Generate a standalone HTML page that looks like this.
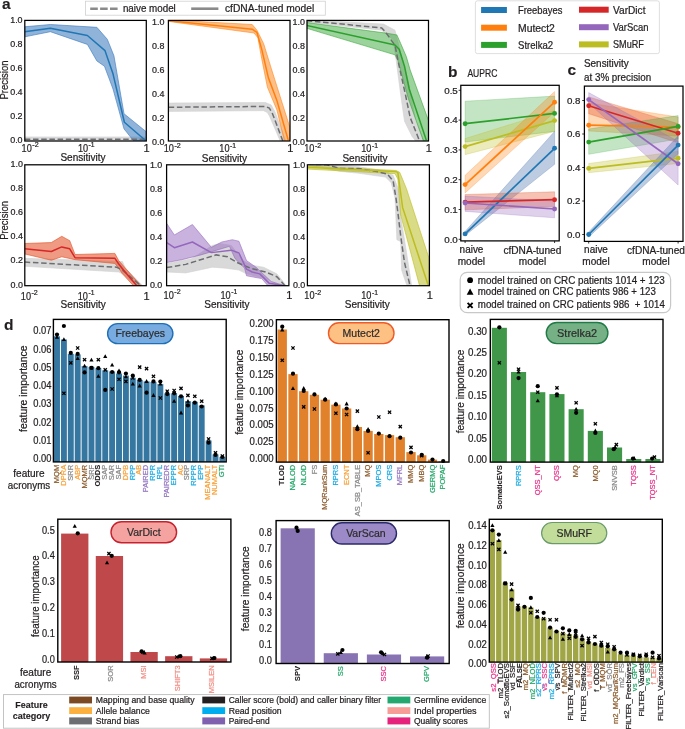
<!DOCTYPE html>
<html><head><meta charset="utf-8"><style>
html,body{margin:0;padding:0;background:#fff;}
svg{display:block;font-family:"Liberation Sans", sans-serif;will-change:transform;}
</style></head><body>
<svg width="685" height="729" viewBox="0 0 685 729" font-family='"Liberation Sans", sans-serif' fill="#231f20">
<rect width="685" height="729" fill="#fff"/>
<clipPath id="ca1"><rect x="24.8" y="20.4" width="121.50000000000001" height="120.6"/></clipPath>
<g clip-path="url(#ca1)">
<polygon points="24.80,136.90 146.30,136.90 146.30,140.20 24.80,140.20" fill="#d2d2d2" fill-opacity="0.85" stroke="#d2d2d2" stroke-width="0.6"/>
<polygon points="24.74,26.77 50.37,24.49 96.86,27.34 107.30,39.29 113.95,55.80 124.00,113.69 146.21,131.72 146.21,141.21 133.87,141.21 124.00,128.87 113.00,89.02 104.46,66.24 96.86,60.93 87.38,44.42 50.37,31.70 24.74,36.83" fill="#3f7cc0" fill-opacity="0.58" stroke="#3f7cc0" stroke-opacity="0.78" stroke-width="0.8"/>
<polyline points="24.80,139.30 146.30,139.30" fill="none" stroke="#6d6e71" stroke-width="1.5" stroke-dasharray="5.5,2.7"/>
<polyline points="24.74,31.70 50.37,28.29 87.38,35.50 105.03,50.68 113.00,73.83 124.38,122.23 145.26,140.26" fill="none" stroke="#1f77b4" stroke-width="1.5" stroke-linejoin="round"/>
</g>
<rect x="24.8" y="20.4" width="121.50000000000001" height="120.6" fill="none" stroke="#000" stroke-width="1.25"/>
<clipPath id="ca2"><rect x="168.4" y="20.4" width="121.6" height="120.6"/></clipPath>
<g clip-path="url(#ca2)">
<polygon points="168.69,103.06 265.49,102.49 271.18,104.96 274.98,111.79 285.98,141.21 280.29,141.21 269.66,116.54 267.38,112.55 263.59,110.65 168.69,111.41" fill="#d2d2d2" fill-opacity="0.85" stroke="#d2d2d2" stroke-width="0.6"/>
<polygon points="168.69,19.93 252.20,24.49 256.95,30.18 263.59,43.47 271.18,68.14 289.78,126.98 289.78,141.21 284.47,141.21 276.87,109.89 267.38,87.12 261.69,58.65 257.89,37.77 254.10,33.03 168.69,21.45" fill="#ff7f0e" fill-opacity="0.5" stroke="#ff7f0e" stroke-opacity="0.70" stroke-width="0.8"/>
<polyline points="168.69,107.24 265.49,106.48 269.28,108.00 272.13,112.74 282.95,141.21" fill="none" stroke="#6d6e71" stroke-width="1.5" stroke-dasharray="5.5,2.7"/>
<polyline points="168.69,20.69 252.20,29.23 256.95,32.46 261.69,49.16 268.33,77.63 276.87,100.41 288.26,140.26" fill="none" stroke="#ff7f0e" stroke-width="1.5" stroke-linejoin="round"/>
</g>
<rect x="168.4" y="20.4" width="121.6" height="120.6" fill="none" stroke="#000" stroke-width="1.25"/>
<clipPath id="ca3"><rect x="307.0" y="20.4" width="121.5" height="120.6"/></clipPath>
<g clip-path="url(#ca3)">
<polygon points="306.74,19.93 383.61,24.11 395.00,30.18 396.89,37.77 400.69,52.96 408.28,81.43 415.87,121.28 424.41,141.21 415.87,141.21 412.08,136.47 404.49,121.28 400.69,94.71 395.95,58.65 393.10,39.67 381.71,30.18 306.74,22.21" fill="#d2d2d2" fill-opacity="0.85" stroke="#d2d2d2" stroke-width="0.6"/>
<polygon points="306.74,22.59 385.51,33.03 396.89,34.93 400.69,43.47 406.38,56.75 410.18,70.04 428.78,121.28 428.78,141.21 423.47,141.21 408.28,98.51 402.59,77.63 397.84,60.55 395.00,54.86 306.74,28.29" fill="#2ca02c" fill-opacity="0.47" stroke="#2ca02c" stroke-opacity="0.67" stroke-width="0.8"/>
<polyline points="306.74,20.69 381.71,27.91 385.51,32.08 395.00,45.37 398.79,64.35 405.44,94.71 410.18,117.49 417.77,136.47 419.67,141.21" fill="none" stroke="#6d6e71" stroke-width="1.5" stroke-dasharray="5.5,2.7"/>
<polyline points="306.74,25.44 395.00,44.99 399.17,49.16 404.49,66.24 409.23,89.02 426.31,140.26" fill="none" stroke="#2ca02c" stroke-width="1.5" stroke-linejoin="round"/>
</g>
<rect x="307.0" y="20.4" width="121.5" height="120.6" fill="none" stroke="#000" stroke-width="1.25"/>
<clipPath id="ca4"><rect x="24.8" y="164.8" width="121.50000000000001" height="120.89999999999998"/></clipPath>
<g clip-path="url(#ca4)">
<polygon points="24.74,258.31 122.49,261.54 125.33,268.18 143.36,286.21 137.67,286.21 122.49,273.87 118.69,271.98 24.74,266.28" fill="#d2d2d2" fill-opacity="0.85" stroke="#d2d2d2" stroke-width="0.6"/>
<polygon points="24.74,243.51 51.32,242.56 61.75,236.30 69.72,240.66 75.04,254.52 114.89,253.38 118.69,260.59 126.28,269.13 141.47,286.21 133.87,286.21 122.49,273.87 118.69,268.18 114.89,263.44 75.04,259.64 61.75,256.79 51.32,260.21 24.74,253.95" fill="#e4572e" fill-opacity="0.6" stroke="#e4572e" stroke-opacity="0.80" stroke-width="0.8"/>
<polyline points="24.74,262.11 116.79,267.23 122.49,270.08 141.47,286.21" fill="none" stroke="#6d6e71" stroke-width="1.5" stroke-dasharray="5.5,2.7"/>
<polyline points="24.74,248.82 51.32,251.48 61.75,246.92 69.72,248.82 75.04,257.74 114.89,258.31 118.69,264.00 123.44,270.08 136.72,285.64" fill="none" stroke="#d62728" stroke-width="1.5" stroke-linejoin="round"/>
</g>
<rect x="24.8" y="164.8" width="121.50000000000001" height="120.89999999999998" fill="none" stroke="#000" stroke-width="1.25"/>
<clipPath id="ca5"><rect x="166.6" y="164.8" width="122.29999999999998" height="120.89999999999998"/></clipPath>
<g clip-path="url(#ca5)">
<polygon points="166.80,263.44 191.47,258.69 212.35,245.41 219.94,243.51 231.32,245.41 242.71,260.59 252.20,265.33 263.59,267.23 276.87,273.87 284.47,283.36 286.36,286.21 280.67,286.21 265.49,278.62 246.51,273.87 238.92,270.08 225.63,268.18 212.35,267.23 185.77,272.92 166.80,271.98" fill="#d2d2d2" fill-opacity="0.85" stroke="#d2d2d2" stroke-width="0.6"/>
<polygon points="166.80,223.58 174.39,234.97 192.42,224.53 211.40,247.30 221.83,241.99 232.27,239.71 238.92,241.23 246.51,260.59 256.00,267.23 271.18,281.47 284.47,285.64 268.33,286.21 261.69,278.62 246.51,275.77 244.61,268.18 235.12,258.69 229.43,246.35 219.94,249.20 200.96,254.89 181.98,259.64 166.80,262.49" fill="#9467bd" fill-opacity="0.5" stroke="#9467bd" stroke-opacity="0.70" stroke-width="0.8"/>
<polyline points="166.80,267.61 185.77,264.38 216.14,254.89 227.53,256.79 237.02,262.49 250.30,268.18 265.49,271.98 276.87,276.72 285.41,286.21" fill="none" stroke="#6d6e71" stroke-width="1.5" stroke-dasharray="5.5,2.7"/>
<polyline points="166.80,242.56 174.39,247.68 192.42,241.99 211.40,252.62 231.32,250.15 238.92,253.00 246.51,269.13 252.20,271.98 259.79,273.87 269.28,283.36 284.47,285.64" fill="none" stroke="#9467bd" stroke-width="1.5" stroke-linejoin="round"/>
</g>
<rect x="166.6" y="164.8" width="122.29999999999998" height="120.89999999999998" fill="none" stroke="#000" stroke-width="1.25"/>
<clipPath id="ca6"><rect x="307.4" y="164.8" width="122.0" height="120.89999999999998"/></clipPath>
<g clip-path="url(#ca6)">
<polygon points="307.69,163.42 326.67,164.18 358.94,166.83 385.51,171.01 393.10,175.18 398.79,190.37 400.69,216.94 404.49,239.71 409.23,270.08 411.70,286.21 407.33,286.21 405.44,281.47 401.64,270.08 400.69,241.61 396.89,239.71 395.00,197.96 391.20,182.77 385.51,177.08 358.94,173.29 339.96,171.39 307.69,164.93" fill="#d2d2d2" fill-opacity="0.85" stroke="#d2d2d2" stroke-width="0.6"/>
<polygon points="307.69,166.07 395.95,170.44 399.74,172.34 406.38,188.47 429.16,258.69 429.16,286.21 419.67,286.21 400.69,215.04 397.84,178.98 395.00,173.66 307.69,169.11" fill="#bcbd22" fill-opacity="0.55" stroke="#bcbd22" stroke-opacity="0.75" stroke-width="0.8"/>
<polyline points="307.69,164.18 326.67,164.74 339.96,168.54 358.94,168.54 377.92,171.77 387.41,174.23 393.10,180.88 395.95,197.96 397.84,212.19 400.69,235.92 404.49,262.49 410.18,286.21" fill="none" stroke="#6d6e71" stroke-width="1.5" stroke-dasharray="5.5,2.7"/>
<polyline points="307.69,167.21 395.00,171.39 397.84,172.34 402.59,207.45 428.21,285.26" fill="none" stroke="#bcbd22" stroke-width="1.5" stroke-linejoin="round"/>
</g>
<rect x="307.4" y="164.8" width="122.0" height="120.89999999999998" fill="none" stroke="#000" stroke-width="1.25"/>
<text x="22.60" y="142.60" font-size="9.0" text-anchor="end" stroke="#231f20" stroke-width="0.22" textLength="12.40" lengthAdjust="spacingAndGlyphs">0.0</text>
<text x="22.60" y="118.72" font-size="9.0" text-anchor="end" stroke="#231f20" stroke-width="0.22" textLength="12.40" lengthAdjust="spacingAndGlyphs">0.2</text>
<text x="22.60" y="94.84" font-size="9.0" text-anchor="end" stroke="#231f20" stroke-width="0.22" textLength="12.40" lengthAdjust="spacingAndGlyphs">0.4</text>
<text x="22.60" y="70.96" font-size="9.0" text-anchor="end" stroke="#231f20" stroke-width="0.22" textLength="12.40" lengthAdjust="spacingAndGlyphs">0.6</text>
<text x="22.60" y="47.08" font-size="9.0" text-anchor="end" stroke="#231f20" stroke-width="0.22" textLength="12.40" lengthAdjust="spacingAndGlyphs">0.8</text>
<text x="22.60" y="23.20" font-size="9.0" text-anchor="end" stroke="#231f20" stroke-width="0.22" textLength="12.40" lengthAdjust="spacingAndGlyphs">1.0</text>
<text x="164.40" y="145.20" font-size="9.0" text-anchor="end" stroke="#231f20" stroke-width="0.22" textLength="12.40" lengthAdjust="spacingAndGlyphs">0.0</text>
<text x="164.40" y="121.18" font-size="9.0" text-anchor="end" stroke="#231f20" stroke-width="0.22" textLength="12.40" lengthAdjust="spacingAndGlyphs">0.2</text>
<text x="164.40" y="97.16" font-size="9.0" text-anchor="end" stroke="#231f20" stroke-width="0.22" textLength="12.40" lengthAdjust="spacingAndGlyphs">0.4</text>
<text x="164.40" y="73.14" font-size="9.0" text-anchor="end" stroke="#231f20" stroke-width="0.22" textLength="12.40" lengthAdjust="spacingAndGlyphs">0.6</text>
<text x="164.40" y="49.12" font-size="9.0" text-anchor="end" stroke="#231f20" stroke-width="0.22" textLength="12.40" lengthAdjust="spacingAndGlyphs">0.8</text>
<text x="164.40" y="25.10" font-size="9.0" text-anchor="end" stroke="#231f20" stroke-width="0.22" textLength="12.40" lengthAdjust="spacingAndGlyphs">1.0</text>
<text x="305.00" y="145.10" font-size="9.0" text-anchor="end" stroke="#231f20" stroke-width="0.22" textLength="12.40" lengthAdjust="spacingAndGlyphs">0.0</text>
<text x="305.00" y="121.12" font-size="9.0" text-anchor="end" stroke="#231f20" stroke-width="0.22" textLength="12.40" lengthAdjust="spacingAndGlyphs">0.2</text>
<text x="305.00" y="97.14" font-size="9.0" text-anchor="end" stroke="#231f20" stroke-width="0.22" textLength="12.40" lengthAdjust="spacingAndGlyphs">0.4</text>
<text x="305.00" y="73.16" font-size="9.0" text-anchor="end" stroke="#231f20" stroke-width="0.22" textLength="12.40" lengthAdjust="spacingAndGlyphs">0.6</text>
<text x="305.00" y="49.18" font-size="9.0" text-anchor="end" stroke="#231f20" stroke-width="0.22" textLength="12.40" lengthAdjust="spacingAndGlyphs">0.8</text>
<text x="305.00" y="25.20" font-size="9.0" text-anchor="end" stroke="#231f20" stroke-width="0.22" textLength="12.40" lengthAdjust="spacingAndGlyphs">1.0</text>
<text x="22.90" y="287.50" font-size="9.0" text-anchor="end" stroke="#231f20" stroke-width="0.22" textLength="12.40" lengthAdjust="spacingAndGlyphs">0.0</text>
<text x="22.90" y="263.42" font-size="9.0" text-anchor="end" stroke="#231f20" stroke-width="0.22" textLength="12.40" lengthAdjust="spacingAndGlyphs">0.2</text>
<text x="22.90" y="239.34" font-size="9.0" text-anchor="end" stroke="#231f20" stroke-width="0.22" textLength="12.40" lengthAdjust="spacingAndGlyphs">0.4</text>
<text x="22.90" y="215.26" font-size="9.0" text-anchor="end" stroke="#231f20" stroke-width="0.22" textLength="12.40" lengthAdjust="spacingAndGlyphs">0.6</text>
<text x="22.90" y="191.18" font-size="9.0" text-anchor="end" stroke="#231f20" stroke-width="0.22" textLength="12.40" lengthAdjust="spacingAndGlyphs">0.8</text>
<text x="22.90" y="167.10" font-size="9.0" text-anchor="end" stroke="#231f20" stroke-width="0.22" textLength="12.40" lengthAdjust="spacingAndGlyphs">1.0</text>
<text x="162.30" y="288.00" font-size="9.0" text-anchor="end" stroke="#231f20" stroke-width="0.22" textLength="12.40" lengthAdjust="spacingAndGlyphs">0.0</text>
<text x="162.30" y="264.08" font-size="9.0" text-anchor="end" stroke="#231f20" stroke-width="0.22" textLength="12.40" lengthAdjust="spacingAndGlyphs">0.2</text>
<text x="162.30" y="240.16" font-size="9.0" text-anchor="end" stroke="#231f20" stroke-width="0.22" textLength="12.40" lengthAdjust="spacingAndGlyphs">0.4</text>
<text x="162.30" y="216.24" font-size="9.0" text-anchor="end" stroke="#231f20" stroke-width="0.22" textLength="12.40" lengthAdjust="spacingAndGlyphs">0.6</text>
<text x="162.30" y="192.32" font-size="9.0" text-anchor="end" stroke="#231f20" stroke-width="0.22" textLength="12.40" lengthAdjust="spacingAndGlyphs">0.8</text>
<text x="162.30" y="168.40" font-size="9.0" text-anchor="end" stroke="#231f20" stroke-width="0.22" textLength="12.40" lengthAdjust="spacingAndGlyphs">1.0</text>
<text x="305.30" y="288.20" font-size="9.0" text-anchor="end" stroke="#231f20" stroke-width="0.22" textLength="12.40" lengthAdjust="spacingAndGlyphs">0.0</text>
<text x="305.30" y="264.24" font-size="9.0" text-anchor="end" stroke="#231f20" stroke-width="0.22" textLength="12.40" lengthAdjust="spacingAndGlyphs">0.2</text>
<text x="305.30" y="240.28" font-size="9.0" text-anchor="end" stroke="#231f20" stroke-width="0.22" textLength="12.40" lengthAdjust="spacingAndGlyphs">0.4</text>
<text x="305.30" y="216.32" font-size="9.0" text-anchor="end" stroke="#231f20" stroke-width="0.22" textLength="12.40" lengthAdjust="spacingAndGlyphs">0.6</text>
<text x="305.30" y="192.36" font-size="9.0" text-anchor="end" stroke="#231f20" stroke-width="0.22" textLength="12.40" lengthAdjust="spacingAndGlyphs">0.8</text>
<text x="305.30" y="168.40" font-size="9.0" text-anchor="end" stroke="#231f20" stroke-width="0.22" textLength="12.40" lengthAdjust="spacingAndGlyphs">1.0</text>
<text x="21.60" y="151.80" font-size="11.0" stroke="#231f20" stroke-width="0.22" textLength="10.20" lengthAdjust="spacingAndGlyphs">10</text>
<text x="32.30" y="147.40" font-size="7.1" stroke="#231f20" stroke-width="0.22" textLength="6.30" lengthAdjust="spacingAndGlyphs">-2</text>
<text x="77.90" y="151.80" font-size="11.0" stroke="#231f20" stroke-width="0.22" textLength="10.20" lengthAdjust="spacingAndGlyphs">10</text>
<text x="88.60" y="147.40" font-size="7.1" stroke="#231f20" stroke-width="0.22" textLength="6.00" lengthAdjust="spacingAndGlyphs">-1</text>
<text x="146.60" y="151.80" font-size="11.0" text-anchor="middle" stroke="#231f20" stroke-width="0.22">1</text>
<text x="83.00" y="161.10" font-size="10.0" text-anchor="middle" stroke="#231f20" stroke-width="0.22" textLength="45.20" lengthAdjust="spacingAndGlyphs">Sensitivity</text>
<text x="163.70" y="152.30" font-size="11.0" stroke="#231f20" stroke-width="0.22" textLength="10.20" lengthAdjust="spacingAndGlyphs">10</text>
<text x="174.40" y="147.90" font-size="7.1" stroke="#231f20" stroke-width="0.22" textLength="6.30" lengthAdjust="spacingAndGlyphs">-2</text>
<text x="219.30" y="152.30" font-size="11.0" stroke="#231f20" stroke-width="0.22" textLength="10.20" lengthAdjust="spacingAndGlyphs">10</text>
<text x="230.00" y="147.90" font-size="7.1" stroke="#231f20" stroke-width="0.22" textLength="6.00" lengthAdjust="spacingAndGlyphs">-1</text>
<text x="290.30" y="152.30" font-size="11.0" text-anchor="middle" stroke="#231f20" stroke-width="0.22">1</text>
<text x="224.40" y="162.00" font-size="10.0" text-anchor="middle" stroke="#231f20" stroke-width="0.22" textLength="45.20" lengthAdjust="spacingAndGlyphs">Sensitivity</text>
<text x="304.20" y="152.30" font-size="11.0" stroke="#231f20" stroke-width="0.22" textLength="10.20" lengthAdjust="spacingAndGlyphs">10</text>
<text x="314.90" y="147.90" font-size="7.1" stroke="#231f20" stroke-width="0.22" textLength="6.30" lengthAdjust="spacingAndGlyphs">-2</text>
<text x="361.20" y="152.30" font-size="11.0" stroke="#231f20" stroke-width="0.22" textLength="10.20" lengthAdjust="spacingAndGlyphs">10</text>
<text x="371.90" y="147.90" font-size="7.1" stroke="#231f20" stroke-width="0.22" textLength="6.00" lengthAdjust="spacingAndGlyphs">-1</text>
<text x="428.80" y="152.30" font-size="11.0" text-anchor="middle" stroke="#231f20" stroke-width="0.22">1</text>
<text x="365.00" y="162.00" font-size="10.0" text-anchor="middle" stroke="#231f20" stroke-width="0.22" textLength="45.20" lengthAdjust="spacingAndGlyphs">Sensitivity</text>
<text x="20.80" y="299.60" font-size="11.0" stroke="#231f20" stroke-width="0.22" textLength="10.20" lengthAdjust="spacingAndGlyphs">10</text>
<text x="31.50" y="295.20" font-size="7.1" stroke="#231f20" stroke-width="0.22" textLength="6.30" lengthAdjust="spacingAndGlyphs">-2</text>
<text x="77.70" y="299.60" font-size="11.0" stroke="#231f20" stroke-width="0.22" textLength="10.20" lengthAdjust="spacingAndGlyphs">10</text>
<text x="88.40" y="295.20" font-size="7.1" stroke="#231f20" stroke-width="0.22" textLength="6.00" lengthAdjust="spacingAndGlyphs">-1</text>
<text x="146.60" y="299.60" font-size="11.0" text-anchor="middle" stroke="#231f20" stroke-width="0.22">1</text>
<text x="83.20" y="307.60" font-size="10.0" text-anchor="middle" stroke="#231f20" stroke-width="0.22" textLength="45.20" lengthAdjust="spacingAndGlyphs">Sensitivity</text>
<text x="163.60" y="298.70" font-size="11.0" stroke="#231f20" stroke-width="0.22" textLength="10.20" lengthAdjust="spacingAndGlyphs">10</text>
<text x="174.30" y="294.30" font-size="7.1" stroke="#231f20" stroke-width="0.22" textLength="6.30" lengthAdjust="spacingAndGlyphs">-2</text>
<text x="220.50" y="298.70" font-size="11.0" stroke="#231f20" stroke-width="0.22" textLength="10.20" lengthAdjust="spacingAndGlyphs">10</text>
<text x="231.20" y="294.30" font-size="7.1" stroke="#231f20" stroke-width="0.22" textLength="6.00" lengthAdjust="spacingAndGlyphs">-1</text>
<text x="289.20" y="298.70" font-size="11.0" text-anchor="middle" stroke="#231f20" stroke-width="0.22">1</text>
<text x="226.90" y="307.60" font-size="10.0" text-anchor="middle" stroke="#231f20" stroke-width="0.22" textLength="45.20" lengthAdjust="spacingAndGlyphs">Sensitivity</text>
<text x="304.30" y="299.20" font-size="11.0" stroke="#231f20" stroke-width="0.22" textLength="10.20" lengthAdjust="spacingAndGlyphs">10</text>
<text x="315.00" y="294.80" font-size="7.1" stroke="#231f20" stroke-width="0.22" textLength="6.30" lengthAdjust="spacingAndGlyphs">-2</text>
<text x="361.20" y="299.20" font-size="11.0" stroke="#231f20" stroke-width="0.22" textLength="10.20" lengthAdjust="spacingAndGlyphs">10</text>
<text x="371.90" y="294.80" font-size="7.1" stroke="#231f20" stroke-width="0.22" textLength="6.00" lengthAdjust="spacingAndGlyphs">-1</text>
<text x="429.70" y="299.20" font-size="11.0" text-anchor="middle" stroke="#231f20" stroke-width="0.22">1</text>
<text x="367.30" y="307.60" font-size="10.0" text-anchor="middle" stroke="#231f20" stroke-width="0.22" textLength="45.20" lengthAdjust="spacingAndGlyphs">Sensitivity</text>
<text x="7.60" y="80.00" font-size="10.3" text-anchor="middle" stroke="#231f20" stroke-width="0.22" textLength="38.90" lengthAdjust="spacingAndGlyphs" transform="rotate(-90 7.60 80.00)">Precision</text>
<text x="7.60" y="220.40" font-size="10.3" text-anchor="middle" stroke="#231f20" stroke-width="0.22" textLength="38.90" lengthAdjust="spacingAndGlyphs" transform="rotate(-90 7.60 220.40)">Precision</text>
<text x="1.90" y="9.10" font-size="15.5" stroke="#231f20" stroke-width="0.12" font-weight="bold">a</text>
<rect x="85.5" y="1.2" width="239.8" height="14.0" fill="#fff" stroke="#d0d0d0" stroke-width="0.8"/>
<line x1="90.2" y1="8.7" x2="117.6" y2="8.7" stroke="#8a8a8a" stroke-width="2.6" stroke-dasharray="7.6,2.3"/>
<text x="122.90" y="11.90" font-size="10.0" stroke="#231f20" stroke-width="0.22" textLength="52.90" lengthAdjust="spacingAndGlyphs">naive model</text>
<line x1="191.2" y1="8.7" x2="218.4" y2="8.7" stroke="#8a8a8a" stroke-width="2.6"/>
<text x="225.00" y="11.90" font-size="10.0" stroke="#231f20" stroke-width="0.22" textLength="89.20" lengthAdjust="spacingAndGlyphs">cfDNA-tuned model</text>
<rect x="475.4" y="0.8" width="184.0" height="52.8" rx="2" fill="#fff" stroke="#d6d6d6" stroke-width="0.8"/>
<rect x="481.1" y="7.0" width="25.8" height="6.0" fill="#1f77b4"/>
<text x="518.00" y="13.90" font-size="10.4" stroke="#231f20" stroke-width="0.22" textLength="44.40" lengthAdjust="spacingAndGlyphs">Freebayes</text>
<rect x="481.1" y="24.7" width="25.8" height="6.0" fill="#ff7f0e"/>
<text x="518.00" y="31.60" font-size="10.4" stroke="#231f20" stroke-width="0.22" textLength="36.90" lengthAdjust="spacingAndGlyphs">Mutect2</text>
<rect x="481.1" y="41.9" width="25.8" height="6.0" fill="#2ca02c"/>
<text x="518.00" y="48.80" font-size="10.4" stroke="#231f20" stroke-width="0.22" textLength="35.20" lengthAdjust="spacingAndGlyphs">Strelka2</text>
<rect x="579.0" y="6.699999999999999" width="29.7" height="6.0" fill="#d62728"/>
<text x="613.00" y="13.60" font-size="10.4" stroke="#231f20" stroke-width="0.22" textLength="32.50" lengthAdjust="spacingAndGlyphs">VarDict</text>
<rect x="579.0" y="24.2" width="29.7" height="6.0" fill="#9467bd"/>
<text x="613.00" y="31.10" font-size="10.4" stroke="#231f20" stroke-width="0.22" textLength="35.50" lengthAdjust="spacingAndGlyphs">VarScan</text>
<rect x="579.0" y="41.4" width="29.7" height="6.0" fill="#bcbd22"/>
<text x="613.00" y="48.30" font-size="10.4" stroke="#231f20" stroke-width="0.22" textLength="30.80" lengthAdjust="spacingAndGlyphs">SMuRF</text>
<clipPath id="cb"><rect x="460.8" y="85.3" width="98.40000000000003" height="155.60000000000002"/></clipPath>
<g clip-path="url(#cb)">
<polygon points="465.10,101.20 554.60,96.10 554.60,131.40 465.10,142.00" fill="#2ca02c" fill-opacity="0.28" stroke="#2ca02c" stroke-opacity="0.28" stroke-width="0.8"/>
<polygon points="465.10,138.60 554.60,110.50 554.60,131.40 465.10,154.70" fill="#bcbd22" fill-opacity="0.3" stroke="#bcbd22" stroke-opacity="0.3" stroke-width="0.8"/>
<polygon points="465.10,175.30 554.60,91.60 554.60,112.00 465.10,192.90" fill="#ff7f0e" fill-opacity="0.3" stroke="#ff7f0e" stroke-opacity="0.3" stroke-width="0.8"/>
<polygon points="465.10,231.50 554.60,131.40 554.60,164.30 465.10,235.50" fill="#4c72b0" fill-opacity="0.36" stroke="#4c72b0" stroke-opacity="0.36" stroke-width="0.8"/>
<polygon points="465.10,194.50 554.60,191.80 554.60,206.60 465.10,209.80" fill="#e4572e" fill-opacity="0.36" stroke="#e4572e" stroke-opacity="0.36" stroke-width="0.8"/>
<polygon points="465.10,196.10 554.60,201.00 554.60,217.80 465.10,211.40" fill="#9467bd" fill-opacity="0.3" stroke="#9467bd" stroke-opacity="0.3" stroke-width="0.8"/>
<line x1="465.10" y1="123.70" x2="554.60" y2="113.40" stroke="#2ca02c" stroke-width="1.7"/>
<circle cx="465.10" cy="123.70" r="2.45" fill="#2ca02c"/>
<circle cx="554.60" cy="113.40" r="2.45" fill="#2ca02c"/>
<line x1="465.10" y1="146.60" x2="554.60" y2="120.60" stroke="#bcbd22" stroke-width="1.7"/>
<circle cx="465.10" cy="146.60" r="2.45" fill="#bcbd22"/>
<circle cx="554.60" cy="120.60" r="2.45" fill="#bcbd22"/>
<line x1="465.10" y1="184.60" x2="554.60" y2="102.20" stroke="#ff7f0e" stroke-width="1.7"/>
<circle cx="465.10" cy="184.60" r="2.45" fill="#ff7f0e"/>
<circle cx="554.60" cy="102.20" r="2.45" fill="#ff7f0e"/>
<line x1="465.10" y1="233.90" x2="554.60" y2="148.30" stroke="#1f77b4" stroke-width="1.7"/>
<circle cx="465.10" cy="233.90" r="2.45" fill="#1f77b4"/>
<circle cx="554.60" cy="148.30" r="2.45" fill="#1f77b4"/>
<line x1="465.10" y1="202.10" x2="554.60" y2="199.70" stroke="#d62728" stroke-width="1.7"/>
<circle cx="465.10" cy="202.10" r="2.45" fill="#d62728"/>
<circle cx="554.60" cy="199.70" r="2.45" fill="#d62728"/>
<line x1="465.10" y1="203.00" x2="554.60" y2="209.00" stroke="#9467bd" stroke-width="1.7"/>
<circle cx="465.10" cy="203.00" r="2.45" fill="#9467bd"/>
<circle cx="554.60" cy="209.00" r="2.45" fill="#9467bd"/>
</g>
<rect x="460.8" y="85.3" width="98.40000000000003" height="155.60000000000002" fill="none" stroke="#000" stroke-width="1.25"/>
<text x="457.80" y="242.50" font-size="9.0" text-anchor="end" stroke="#231f20" stroke-width="0.22" textLength="13.60" lengthAdjust="spacingAndGlyphs">0.0</text>
<line x1="458.6" y1="239.30" x2="460.8" y2="239.30" stroke="#000" stroke-width="0.8"/>
<text x="457.80" y="212.70" font-size="9.0" text-anchor="end" stroke="#231f20" stroke-width="0.22" textLength="13.60" lengthAdjust="spacingAndGlyphs">0.1</text>
<line x1="458.6" y1="209.50" x2="460.8" y2="209.50" stroke="#000" stroke-width="0.8"/>
<text x="457.80" y="182.90" font-size="9.0" text-anchor="end" stroke="#231f20" stroke-width="0.22" textLength="13.60" lengthAdjust="spacingAndGlyphs">0.2</text>
<line x1="458.6" y1="179.70" x2="460.8" y2="179.70" stroke="#000" stroke-width="0.8"/>
<text x="457.80" y="153.10" font-size="9.0" text-anchor="end" stroke="#231f20" stroke-width="0.22" textLength="13.60" lengthAdjust="spacingAndGlyphs">0.3</text>
<line x1="458.6" y1="149.90" x2="460.8" y2="149.90" stroke="#000" stroke-width="0.8"/>
<text x="457.80" y="123.30" font-size="9.0" text-anchor="end" stroke="#231f20" stroke-width="0.22" textLength="13.60" lengthAdjust="spacingAndGlyphs">0.4</text>
<line x1="458.6" y1="120.10" x2="460.8" y2="120.10" stroke="#000" stroke-width="0.8"/>
<text x="457.80" y="93.50" font-size="9.0" text-anchor="end" stroke="#231f20" stroke-width="0.22" textLength="13.60" lengthAdjust="spacingAndGlyphs">0.5</text>
<line x1="458.6" y1="90.30" x2="460.8" y2="90.30" stroke="#000" stroke-width="0.8"/>
<line x1="465.1" y1="240.9" x2="465.1" y2="243.0" stroke="#000" stroke-width="0.8"/>
<line x1="554.6" y1="240.9" x2="554.6" y2="243.0" stroke="#000" stroke-width="0.8"/>
<text x="448.00" y="76.60" font-size="15.5" stroke="#231f20" stroke-width="0.12" font-weight="bold">b</text>
<text x="467.40" y="76.60" font-size="11.0" stroke="#231f20" stroke-width="0.22" textLength="30.00" lengthAdjust="spacingAndGlyphs">AUPRC</text>
<text x="471.50" y="253.20" font-size="10.0" text-anchor="middle" stroke="#231f20" stroke-width="0.22" textLength="23.80" lengthAdjust="spacingAndGlyphs">naive</text>
<text x="471.40" y="265.10" font-size="10.0" text-anchor="middle" stroke="#231f20" stroke-width="0.22" textLength="27.40" lengthAdjust="spacingAndGlyphs">model</text>
<text x="532.40" y="253.80" font-size="10.0" text-anchor="middle" stroke="#231f20" stroke-width="0.22" textLength="57.90" lengthAdjust="spacingAndGlyphs">cfDNA-tuned</text>
<text x="532.50" y="265.10" font-size="10.0" text-anchor="middle" stroke="#231f20" stroke-width="0.22" textLength="27.40" lengthAdjust="spacingAndGlyphs">model</text>
<clipPath id="cc"><rect x="584.4" y="86.1" width="98.60000000000002" height="155.3"/></clipPath>
<g clip-path="url(#cc)">
<polygon points="588.70,103.00 678.10,117.00 678.10,136.00 588.70,131.00" fill="#ff7f0e" fill-opacity="0.3" stroke="#ff7f0e" stroke-opacity="0.3" stroke-width="0.8"/>
<polygon points="588.70,96.90 678.10,123.70 678.10,142.80 588.70,113.70" fill="#e4572e" fill-opacity="0.36" stroke="#e4572e" stroke-opacity="0.36" stroke-width="0.8"/>
<polygon points="588.70,129.00 678.10,115.60 678.10,139.00 588.70,154.30" fill="#2ca02c" fill-opacity="0.28" stroke="#2ca02c" stroke-opacity="0.28" stroke-width="0.8"/>
<polygon points="588.70,163.50 678.10,151.30 678.10,163.50 588.70,172.70" fill="#bcbd22" fill-opacity="0.3" stroke="#bcbd22" stroke-opacity="0.3" stroke-width="0.8"/>
<polygon points="588.70,92.60 678.10,141.30 678.10,185.00 588.70,103.00" fill="#9467bd" fill-opacity="0.3" stroke="#9467bd" stroke-opacity="0.3" stroke-width="0.8"/>
<polygon points="588.70,232.00 678.10,136.00 678.10,153.80 588.70,237.00" fill="#4c72b0" fill-opacity="0.36" stroke="#4c72b0" stroke-opacity="0.36" stroke-width="0.8"/>
<line x1="588.70" y1="125.20" x2="678.10" y2="127.00" stroke="#ff7f0e" stroke-width="1.7"/>
<circle cx="588.70" cy="125.20" r="2.45" fill="#ff7f0e"/>
<circle cx="678.10" cy="127.00" r="2.45" fill="#ff7f0e"/>
<line x1="588.70" y1="105.80" x2="678.10" y2="133.30" stroke="#d62728" stroke-width="1.7"/>
<circle cx="588.70" cy="105.80" r="2.45" fill="#d62728"/>
<circle cx="678.10" cy="133.30" r="2.45" fill="#d62728"/>
<line x1="588.70" y1="142.10" x2="678.10" y2="126.40" stroke="#2ca02c" stroke-width="1.7"/>
<circle cx="588.70" cy="142.10" r="2.45" fill="#2ca02c"/>
<circle cx="678.10" cy="126.40" r="2.45" fill="#2ca02c"/>
<line x1="588.70" y1="168.40" x2="678.10" y2="158.20" stroke="#bcbd22" stroke-width="1.7"/>
<circle cx="588.70" cy="168.40" r="2.45" fill="#bcbd22"/>
<circle cx="678.10" cy="158.20" r="2.45" fill="#bcbd22"/>
<line x1="588.70" y1="99.60" x2="678.10" y2="163.80" stroke="#9467bd" stroke-width="1.7"/>
<circle cx="588.70" cy="99.60" r="2.45" fill="#9467bd"/>
<circle cx="678.10" cy="163.80" r="2.45" fill="#9467bd"/>
<line x1="588.70" y1="234.50" x2="678.10" y2="145.10" stroke="#1f77b4" stroke-width="1.7"/>
<circle cx="588.70" cy="234.50" r="2.45" fill="#1f77b4"/>
<circle cx="678.10" cy="145.10" r="2.45" fill="#1f77b4"/>
</g>
<rect x="584.4" y="86.1" width="98.60000000000002" height="155.3" fill="none" stroke="#000" stroke-width="1.25"/>
<text x="580.40" y="237.70" font-size="9.0" text-anchor="end" stroke="#231f20" stroke-width="0.22" textLength="13.50" lengthAdjust="spacingAndGlyphs">0.0</text>
<line x1="582.2" y1="234.50" x2="584.4" y2="234.50" stroke="#000" stroke-width="0.8"/>
<text x="580.40" y="204.20" font-size="9.0" text-anchor="end" stroke="#231f20" stroke-width="0.22" textLength="13.50" lengthAdjust="spacingAndGlyphs">0.2</text>
<line x1="582.2" y1="201.00" x2="584.4" y2="201.00" stroke="#000" stroke-width="0.8"/>
<text x="580.40" y="170.70" font-size="9.0" text-anchor="end" stroke="#231f20" stroke-width="0.22" textLength="13.50" lengthAdjust="spacingAndGlyphs">0.4</text>
<line x1="582.2" y1="167.50" x2="584.4" y2="167.50" stroke="#000" stroke-width="0.8"/>
<text x="580.40" y="137.20" font-size="9.0" text-anchor="end" stroke="#231f20" stroke-width="0.22" textLength="13.50" lengthAdjust="spacingAndGlyphs">0.6</text>
<line x1="582.2" y1="134.00" x2="584.4" y2="134.00" stroke="#000" stroke-width="0.8"/>
<text x="580.40" y="103.70" font-size="9.0" text-anchor="end" stroke="#231f20" stroke-width="0.22" textLength="13.50" lengthAdjust="spacingAndGlyphs">0.8</text>
<line x1="582.2" y1="100.50" x2="584.4" y2="100.50" stroke="#000" stroke-width="0.8"/>
<line x1="588.7" y1="241.4" x2="588.7" y2="243.5" stroke="#000" stroke-width="0.8"/>
<line x1="678.1" y1="241.4" x2="678.1" y2="243.5" stroke="#000" stroke-width="0.8"/>
<text x="567.60" y="75.00" font-size="15.5" stroke="#231f20" stroke-width="0.12" font-weight="bold">c</text>
<text x="584.00" y="67.40" font-size="10.0" stroke="#231f20" stroke-width="0.22" textLength="44.60" lengthAdjust="spacingAndGlyphs">Sensitivity</text>
<text x="584.00" y="80.70" font-size="10.0" stroke="#231f20" stroke-width="0.22" textLength="67.20" lengthAdjust="spacingAndGlyphs">at 3% precision</text>
<text x="596.00" y="253.20" font-size="10.0" text-anchor="middle" stroke="#231f20" stroke-width="0.22" textLength="23.80" lengthAdjust="spacingAndGlyphs">naive</text>
<text x="596.00" y="265.10" font-size="10.0" text-anchor="middle" stroke="#231f20" stroke-width="0.22" textLength="27.40" lengthAdjust="spacingAndGlyphs">model</text>
<text x="656.00" y="253.80" font-size="10.0" text-anchor="middle" stroke="#231f20" stroke-width="0.22" textLength="57.90" lengthAdjust="spacingAndGlyphs">cfDNA-tuned</text>
<text x="656.00" y="265.10" font-size="10.0" text-anchor="middle" stroke="#231f20" stroke-width="0.22" textLength="27.40" lengthAdjust="spacingAndGlyphs">model</text>
<rect x="460.2" y="272.4" width="210.4" height="40.3" rx="7" fill="#fff" stroke="#c8c8c8" stroke-width="1.2"/>
<circle cx="470.1" cy="280.2" r="2.9" fill="#000"/>
<polygon points="470.1,288.6 473.5,294.8 466.7,294.8" fill="#000"/>
<path d="M467.6,302.9 L472.6,307.9 M472.6,302.9 L467.6,307.9" stroke="#000" stroke-width="1.9"/>
<text x="477.80" y="283.60" font-size="10.0" stroke="#231f20" stroke-width="0.22" textLength="187.00" lengthAdjust="spacingAndGlyphs">model trained on CRC patients 1014 + 123</text>
<text x="477.80" y="295.40" font-size="10.0" stroke="#231f20" stroke-width="0.22" textLength="178.00" lengthAdjust="spacingAndGlyphs">model trained on CRC patients 986 + 123</text>
<text x="477.80" y="308.20" font-size="10.0" stroke="#231f20" stroke-width="0.22" textLength="187.00" lengthAdjust="spacingAndGlyphs">model trained on CRC patients 986  + 1014</text>
<rect x="54.05" y="336.30" width="5.92" height="125.60" fill="#3577a1"/>
<rect x="60.94" y="339.50" width="5.92" height="122.40" fill="#3577a1"/>
<rect x="67.83" y="353.90" width="5.92" height="108.00" fill="#3577a1"/>
<rect x="74.72" y="354.40" width="5.92" height="107.50" fill="#3577a1"/>
<rect x="81.61" y="366.10" width="5.92" height="95.80" fill="#3577a1"/>
<rect x="88.50" y="367.10" width="5.92" height="94.80" fill="#3577a1"/>
<rect x="95.39" y="368.20" width="5.92" height="93.70" fill="#3577a1"/>
<rect x="102.28" y="370.30" width="5.92" height="91.60" fill="#3577a1"/>
<rect x="109.17" y="371.40" width="5.92" height="90.50" fill="#3577a1"/>
<rect x="116.06" y="373.50" width="5.92" height="88.40" fill="#3577a1"/>
<rect x="122.95" y="375.60" width="5.92" height="86.30" fill="#3577a1"/>
<rect x="129.84" y="377.80" width="5.92" height="84.10" fill="#3577a1"/>
<rect x="136.73" y="379.90" width="5.92" height="82.00" fill="#3577a1"/>
<rect x="143.62" y="381.40" width="5.92" height="80.50" fill="#3577a1"/>
<rect x="150.51" y="382.00" width="5.92" height="79.90" fill="#3577a1"/>
<rect x="157.40" y="384.10" width="5.92" height="77.80" fill="#3577a1"/>
<rect x="164.29" y="393.30" width="5.92" height="68.60" fill="#3577a1"/>
<rect x="171.18" y="393.30" width="5.92" height="68.60" fill="#3577a1"/>
<rect x="178.07" y="395.90" width="5.92" height="66.00" fill="#3577a1"/>
<rect x="184.96" y="401.20" width="5.92" height="60.70" fill="#3577a1"/>
<rect x="191.85" y="401.80" width="5.92" height="60.10" fill="#3577a1"/>
<rect x="198.74" y="405.40" width="5.92" height="56.50" fill="#3577a1"/>
<rect x="205.63" y="440.50" width="5.92" height="21.40" fill="#3577a1"/>
<rect x="212.52" y="454.40" width="5.92" height="7.50" fill="#3577a1"/>
<rect x="219.41" y="457.10" width="5.92" height="4.80" fill="#3577a1"/>
<rect x="53.4" y="319.4" width="172.79999999999998" height="142.5" fill="none" stroke="#000" stroke-width="1.4"/>
<text x="51.40" y="462.30" font-size="10.0" text-anchor="end" stroke="#231f20" stroke-width="0.22" textLength="18.20" lengthAdjust="spacingAndGlyphs">0.00</text>
<text x="51.40" y="444.03" font-size="10.0" text-anchor="end" stroke="#231f20" stroke-width="0.22" textLength="18.20" lengthAdjust="spacingAndGlyphs">0.01</text>
<text x="51.40" y="425.76" font-size="10.0" text-anchor="end" stroke="#231f20" stroke-width="0.22" textLength="18.20" lengthAdjust="spacingAndGlyphs">0.02</text>
<text x="51.40" y="407.49" font-size="10.0" text-anchor="end" stroke="#231f20" stroke-width="0.22" textLength="18.20" lengthAdjust="spacingAndGlyphs">0.03</text>
<text x="51.40" y="389.22" font-size="10.0" text-anchor="end" stroke="#231f20" stroke-width="0.22" textLength="18.20" lengthAdjust="spacingAndGlyphs">0.04</text>
<text x="51.40" y="370.95" font-size="10.0" text-anchor="end" stroke="#231f20" stroke-width="0.22" textLength="18.20" lengthAdjust="spacingAndGlyphs">0.05</text>
<text x="51.40" y="352.68" font-size="10.0" text-anchor="end" stroke="#231f20" stroke-width="0.22" textLength="18.20" lengthAdjust="spacingAndGlyphs">0.06</text>
<text x="51.40" y="334.41" font-size="10.0" text-anchor="end" stroke="#231f20" stroke-width="0.22" textLength="18.20" lengthAdjust="spacingAndGlyphs">0.07</text>
<text x="26.70" y="388.70" font-size="10.4" text-anchor="middle" stroke="#231f20" stroke-width="0.22" textLength="86.40" lengthAdjust="spacingAndGlyphs" transform="rotate(-90 26.70 388.70)">feature importance</text>
<text x="59.30" y="464.80" font-size="7.5" text-anchor="end" fill="#8b5a2b" stroke="#8b5a2b" stroke-width="0.22" transform="rotate(-90 59.30 464.80)">MQM</text>
<text x="66.15" y="464.80" font-size="7.5" text-anchor="end" fill="#f7a23b" stroke="#f7a23b" stroke-width="0.22" transform="rotate(-90 66.15 464.80)">DPRA</text>
<text x="73.00" y="464.80" font-size="7.5" text-anchor="end" fill="#8a8a8a" stroke="#8a8a8a" stroke-width="0.22" transform="rotate(-90 73.00 464.80)">SRR</text>
<text x="79.85" y="464.80" font-size="7.5" text-anchor="end" fill="#f7a23b" stroke="#f7a23b" stroke-width="0.22" transform="rotate(-90 79.85 464.80)">ABP</text>
<text x="86.70" y="464.80" font-size="7.5" text-anchor="end" fill="#8b5a2b" stroke="#8b5a2b" stroke-width="0.22" transform="rotate(-90 86.70 464.80)">MQMR</text>
<text x="93.55" y="464.80" font-size="7.5" text-anchor="end" fill="#8a8a8a" stroke="#8a8a8a" stroke-width="0.22" transform="rotate(-90 93.55 464.80)">SRF</text>
<text x="100.40" y="464.80" font-size="7.5" text-anchor="end" stroke="#231f20" stroke-width="0.12" font-weight="bold" transform="rotate(-90 100.40 464.80)">ODDS</text>
<text x="107.25" y="464.80" font-size="7.5" text-anchor="end" fill="#8a8a8a" stroke="#8a8a8a" stroke-width="0.22" transform="rotate(-90 107.25 464.80)">SAP</text>
<text x="114.10" y="464.80" font-size="7.5" text-anchor="end" fill="#8a8a8a" stroke="#8a8a8a" stroke-width="0.22" transform="rotate(-90 114.10 464.80)">SAR</text>
<text x="120.95" y="464.80" font-size="7.5" text-anchor="end" fill="#8a8a8a" stroke="#8a8a8a" stroke-width="0.22" transform="rotate(-90 120.95 464.80)">SAF</text>
<text x="127.80" y="464.80" font-size="7.5" text-anchor="end" fill="#f7a23b" stroke="#f7a23b" stroke-width="0.22" transform="rotate(-90 127.80 464.80)">DPB</text>
<text x="134.65" y="464.80" font-size="7.5" text-anchor="end" fill="#1ba9e0" stroke="#1ba9e0" stroke-width="0.22" transform="rotate(-90 134.65 464.80)">RPP</text>
<text x="141.50" y="464.80" font-size="7.5" text-anchor="end" fill="#f7a23b" stroke="#f7a23b" stroke-width="0.22" transform="rotate(-90 141.50 464.80)">AB</text>
<text x="148.35" y="464.80" font-size="7.5" text-anchor="end" fill="#9475c0" stroke="#9475c0" stroke-width="0.22" transform="rotate(-90 148.35 464.80)">PAIRED</text>
<text x="155.20" y="464.80" font-size="7.5" text-anchor="end" fill="#1ba9e0" stroke="#1ba9e0" stroke-width="0.22" transform="rotate(-90 155.20 464.80)">RPR</text>
<text x="162.05" y="464.80" font-size="7.5" text-anchor="end" fill="#1ba9e0" stroke="#1ba9e0" stroke-width="0.22" transform="rotate(-90 162.05 464.80)">RPL</text>
<text x="168.90" y="464.80" font-size="7.5" text-anchor="end" fill="#9475c0" stroke="#9475c0" stroke-width="0.22" transform="rotate(-90 168.90 464.80)">PAIREDR</text>
<text x="175.75" y="464.80" font-size="7.5" text-anchor="end" fill="#1ba9e0" stroke="#1ba9e0" stroke-width="0.22" transform="rotate(-90 175.75 464.80)">EPPR</text>
<text x="182.60" y="464.80" font-size="7.5" text-anchor="end" fill="#f7a23b" stroke="#f7a23b" stroke-width="0.22" transform="rotate(-90 182.60 464.80)">AC</text>
<text x="189.45" y="464.80" font-size="7.5" text-anchor="end" fill="#8a8a8a" stroke="#8a8a8a" stroke-width="0.22" transform="rotate(-90 189.45 464.80)">SRP</text>
<text x="196.30" y="464.80" font-size="7.5" text-anchor="end" fill="#1ba9e0" stroke="#1ba9e0" stroke-width="0.22" transform="rotate(-90 196.30 464.80)">RPPR</text>
<text x="203.15" y="464.80" font-size="7.5" text-anchor="end" fill="#1ba9e0" stroke="#1ba9e0" stroke-width="0.22" transform="rotate(-90 203.15 464.80)">EPP</text>
<text x="210.00" y="464.80" font-size="7.5" text-anchor="end" fill="#f7a23b" stroke="#f7a23b" stroke-width="0.22" transform="rotate(-90 210.00 464.80)">MEANALT</text>
<text x="216.85" y="464.80" font-size="7.5" text-anchor="end" fill="#f7a23b" stroke="#f7a23b" stroke-width="0.22" transform="rotate(-90 216.85 464.80)">NUMALT</text>
<text x="223.70" y="464.80" font-size="7.5" text-anchor="end" fill="#27a86b" stroke="#27a86b" stroke-width="0.22" transform="rotate(-90 223.70 464.80)">GTI</text>
<circle cx="57.01" cy="334.60" r="2.1" fill="#000"/>
<polygon points="57.01,335.00 59.11,338.80 54.91,338.80" fill="#000"/>
<circle cx="63.90" cy="326.00" r="2.1" fill="#000"/>
<polygon points="63.90,337.20 66.00,341.00 61.80,341.00" fill="#000"/>
<path d="M62.30,391.70 L65.50,394.90 M65.50,391.70 L62.30,394.90" stroke="#000" stroke-width="1.3"/>
<circle cx="70.79" cy="352.90" r="2.1" fill="#000"/>
<path d="M69.19,361.30 L72.39,364.50 M72.39,361.30 L69.19,364.50" stroke="#000" stroke-width="1.3"/>
<path d="M76.08,346.40 L79.28,349.60 M79.28,346.40 L76.08,349.60" stroke="#000" stroke-width="1.3"/>
<circle cx="77.68" cy="353.90" r="2.1" fill="#000"/>
<polygon points="77.68,356.30 79.78,360.10 75.58,360.10" fill="#000"/>
<path d="M82.97,358.10 L86.17,361.30 M86.17,358.10 L82.97,361.30" stroke="#000" stroke-width="1.3"/>
<polygon points="84.57,363.80 86.67,367.60 82.47,367.60" fill="#000"/>
<circle cx="84.57" cy="372.40" r="2.1" fill="#000"/>
<polygon points="91.46,357.80 93.56,361.60 89.36,361.60" fill="#000"/>
<circle cx="91.46" cy="367.80" r="2.1" fill="#000"/>
<path d="M89.86,366.20 L93.06,369.40 M93.06,366.20 L89.86,369.40" stroke="#000" stroke-width="1.3"/>
<path d="M96.75,358.10 L99.95,361.30 M99.95,358.10 L96.75,361.30" stroke="#000" stroke-width="1.3"/>
<circle cx="98.35" cy="368.20" r="2.1" fill="#000"/>
<polygon points="98.35,374.00 100.45,377.80 96.25,377.80" fill="#000"/>
<polygon points="105.24,354.20 107.34,358.00 103.14,358.00" fill="#000"/>
<path d="M103.64,368.30 L106.84,371.50 M106.84,368.30 L103.64,371.50" stroke="#000" stroke-width="1.3"/>
<circle cx="105.24" cy="389.90" r="2.1" fill="#000"/>
<polygon points="112.13,362.70 114.23,366.50 110.03,366.50" fill="#000"/>
<circle cx="112.13" cy="372.00" r="2.1" fill="#000"/>
<path d="M110.53,387.40 L113.73,390.60 M113.73,387.40 L110.53,390.60" stroke="#000" stroke-width="1.3"/>
<polygon points="119.02,368.40 121.12,372.20 116.92,372.20" fill="#000"/>
<circle cx="119.02" cy="372.40" r="2.1" fill="#000"/>
<path d="M117.42,377.70 L120.62,380.90 M120.62,377.70 L117.42,380.90" stroke="#000" stroke-width="1.3"/>
<circle cx="125.91" cy="373.50" r="2.1" fill="#000"/>
<polygon points="125.91,374.40 128.01,378.20 123.81,378.20" fill="#000"/>
<path d="M124.31,379.80 L127.51,383.00 M127.51,379.80 L124.31,383.00" stroke="#000" stroke-width="1.3"/>
<circle cx="132.80" cy="375.60" r="2.1" fill="#000"/>
<path d="M131.20,376.40 L134.40,379.60 M134.40,376.40 L131.20,379.60" stroke="#000" stroke-width="1.3"/>
<polygon points="132.80,381.80 134.90,385.60 130.70,385.60" fill="#000"/>
<path d="M138.09,365.50 L141.29,368.70 M141.29,365.50 L138.09,368.70" stroke="#000" stroke-width="1.3"/>
<circle cx="139.69" cy="379.90" r="2.1" fill="#000"/>
<polygon points="139.69,383.60 141.79,387.40 137.59,387.40" fill="#000"/>
<path d="M144.98,367.00 L148.18,370.20 M148.18,367.00 L144.98,370.20" stroke="#000" stroke-width="1.3"/>
<polygon points="146.58,379.10 148.68,382.90 144.48,382.90" fill="#000"/>
<circle cx="146.58" cy="392.70" r="2.1" fill="#000"/>
<path d="M151.87,374.70 L155.07,377.90 M155.07,374.70 L151.87,377.90" stroke="#000" stroke-width="1.3"/>
<circle cx="153.47" cy="381.40" r="2.1" fill="#000"/>
<polygon points="153.47,393.10 155.57,396.90 151.37,396.90" fill="#000"/>
<circle cx="160.36" cy="381.60" r="2.1" fill="#000"/>
<polygon points="160.36,381.80 162.46,385.60 158.26,385.60" fill="#000"/>
<path d="M158.76,396.40 L161.96,399.60 M161.96,396.40 L158.76,399.60" stroke="#000" stroke-width="1.3"/>
<path d="M165.65,389.60 L168.85,392.80 M168.85,389.60 L165.65,392.80" stroke="#000" stroke-width="1.3"/>
<circle cx="167.25" cy="394.10" r="2.1" fill="#000"/>
<path d="M172.54,388.90 L175.74,392.10 M175.74,388.90 L172.54,392.10" stroke="#000" stroke-width="1.3"/>
<circle cx="174.14" cy="393.30" r="2.1" fill="#000"/>
<polygon points="174.14,398.90 176.24,402.70 172.04,402.70" fill="#000"/>
<path d="M179.43,386.80 L182.63,390.00 M182.63,386.80 L179.43,390.00" stroke="#000" stroke-width="1.3"/>
<circle cx="181.03" cy="396.30" r="2.1" fill="#000"/>
<polygon points="181.03,410.60 183.13,414.40 178.93,414.40" fill="#000"/>
<path d="M186.32,393.80 L189.52,397.00 M189.52,393.80 L186.32,397.00" stroke="#000" stroke-width="1.3"/>
<polygon points="187.92,398.90 190.02,402.70 185.82,402.70" fill="#000"/>
<circle cx="187.92" cy="405.40" r="2.1" fill="#000"/>
<path d="M193.21,394.70 L196.41,397.90 M196.41,394.70 L193.21,397.90" stroke="#000" stroke-width="1.3"/>
<circle cx="194.81" cy="402.70" r="2.1" fill="#000"/>
<path d="M200.10,399.60 L203.30,402.80 M203.30,399.60 L200.10,402.80" stroke="#000" stroke-width="1.3"/>
<circle cx="201.70" cy="406.50" r="2.1" fill="#000"/>
<path d="M206.99,437.40 L210.19,440.60 M210.19,437.40 L206.99,440.60" stroke="#000" stroke-width="1.3"/>
<circle cx="208.59" cy="442.70" r="2.1" fill="#000"/>
<path d="M213.88,451.30 L217.08,454.50 M217.08,451.30 L213.88,454.50" stroke="#000" stroke-width="1.3"/>
<circle cx="215.48" cy="455.00" r="2.1" fill="#000"/>
<path d="M220.77,454.40 L223.97,457.60 M223.97,454.40 L220.77,457.60" stroke="#000" stroke-width="1.3"/>
<circle cx="222.37" cy="457.00" r="2.1" fill="#000"/>
<rect x="107.6" y="323.6" width="65.30000000000001" height="20.0" rx="10.00" fill="#78ace0" stroke="#1f6fb8" stroke-width="1.4"/>
<text x="140.25" y="337.30" font-size="10.5" text-anchor="middle" fill="#2e2c2c" stroke="#2e2c2c" stroke-width="0.22">Freebayes</text>
<text x="4.00" y="330.00" font-size="15.5" stroke="#231f20" stroke-width="0.12" font-weight="bold">d</text>
<text x="28.90" y="476.50" font-size="10.0" text-anchor="middle" stroke="#231f20" stroke-width="0.22" textLength="31.30" lengthAdjust="spacingAndGlyphs">feature</text>
<text x="29.00" y="488.70" font-size="10.0" text-anchor="middle" stroke="#231f20" stroke-width="0.22" textLength="42.30" lengthAdjust="spacingAndGlyphs">acronyms</text>
<rect x="277.60" y="329.50" width="9.30" height="132.60" fill="#e1812c"/>
<rect x="288.33" y="374.10" width="9.30" height="88.00" fill="#e1812c"/>
<rect x="299.06" y="391.20" width="9.30" height="70.90" fill="#e1812c"/>
<rect x="309.79" y="394.80" width="9.30" height="67.30" fill="#e1812c"/>
<rect x="320.52" y="399.70" width="9.30" height="62.40" fill="#e1812c"/>
<rect x="331.25" y="404.70" width="9.30" height="57.40" fill="#e1812c"/>
<rect x="341.98" y="408.50" width="9.30" height="53.60" fill="#e1812c"/>
<rect x="352.71" y="427.00" width="9.30" height="35.10" fill="#e1812c"/>
<rect x="363.44" y="430.90" width="9.30" height="31.20" fill="#e1812c"/>
<rect x="374.17" y="434.00" width="9.30" height="28.10" fill="#e1812c"/>
<rect x="384.90" y="435.10" width="9.30" height="27.00" fill="#e1812c"/>
<rect x="395.63" y="437.20" width="9.30" height="24.90" fill="#e1812c"/>
<rect x="406.36" y="452.10" width="9.30" height="10.00" fill="#e1812c"/>
<rect x="417.09" y="455.30" width="9.30" height="6.80" fill="#e1812c"/>
<rect x="427.82" y="459.60" width="9.30" height="2.50" fill="#e1812c"/>
<rect x="438.55" y="461.30" width="9.30" height="0.80" fill="#e1812c"/>
<rect x="276.4" y="319.7" width="172.60000000000002" height="142.40000000000003" fill="none" stroke="#000" stroke-width="1.4"/>
<text x="273.60" y="462.10" font-size="10.0" text-anchor="end" stroke="#231f20" stroke-width="0.22" textLength="24.00" lengthAdjust="spacingAndGlyphs">0.000</text>
<text x="273.60" y="445.26" font-size="10.0" text-anchor="end" stroke="#231f20" stroke-width="0.22" textLength="24.00" lengthAdjust="spacingAndGlyphs">0.025</text>
<text x="273.60" y="428.42" font-size="10.0" text-anchor="end" stroke="#231f20" stroke-width="0.22" textLength="24.00" lengthAdjust="spacingAndGlyphs">0.005</text>
<text x="273.60" y="411.58" font-size="10.0" text-anchor="end" stroke="#231f20" stroke-width="0.22" textLength="24.00" lengthAdjust="spacingAndGlyphs">0.075</text>
<text x="273.60" y="394.74" font-size="10.0" text-anchor="end" stroke="#231f20" stroke-width="0.22" textLength="24.00" lengthAdjust="spacingAndGlyphs">0.100</text>
<text x="273.60" y="377.90" font-size="10.0" text-anchor="end" stroke="#231f20" stroke-width="0.22" textLength="24.00" lengthAdjust="spacingAndGlyphs">0.125</text>
<text x="273.60" y="361.06" font-size="10.0" text-anchor="end" stroke="#231f20" stroke-width="0.22" textLength="24.00" lengthAdjust="spacingAndGlyphs">0.150</text>
<text x="273.60" y="344.22" font-size="10.0" text-anchor="end" stroke="#231f20" stroke-width="0.22" textLength="24.00" lengthAdjust="spacingAndGlyphs">0.175</text>
<text x="273.60" y="327.38" font-size="10.0" text-anchor="end" stroke="#231f20" stroke-width="0.22" textLength="24.00" lengthAdjust="spacingAndGlyphs">0.200</text>
<text x="243.40" y="392.20" font-size="10.4" text-anchor="middle" stroke="#231f20" stroke-width="0.22" textLength="85.10" lengthAdjust="spacingAndGlyphs" transform="rotate(-90 243.40 392.20)">feature importance</text>
<text x="284.45" y="464.70" font-size="7.5" text-anchor="end" stroke="#231f20" stroke-width="0.12" font-weight="bold" transform="rotate(-90 284.45 464.70)">TLOD</text>
<text x="295.18" y="464.70" font-size="7.5" text-anchor="end" fill="#27a86b" stroke="#27a86b" stroke-width="0.22" transform="rotate(-90 295.18 464.70)">NALOD</text>
<text x="305.91" y="464.70" font-size="7.5" text-anchor="end" fill="#27a86b" stroke="#27a86b" stroke-width="0.22" transform="rotate(-90 305.91 464.70)">NLOD</text>
<text x="316.64" y="464.70" font-size="7.5" text-anchor="end" fill="#8a8a8a" stroke="#8a8a8a" stroke-width="0.22" transform="rotate(-90 316.64 464.70)">FS</text>
<text x="327.37" y="464.70" font-size="7.5" text-anchor="end" fill="#8b5a2b" stroke="#8b5a2b" stroke-width="0.22" transform="rotate(-90 327.37 464.70)">MQRankSum</text>
<text x="338.10" y="464.70" font-size="7.5" text-anchor="end" fill="#1ba9e0" stroke="#1ba9e0" stroke-width="0.22" transform="rotate(-90 338.10 464.70)">RPRS</text>
<text x="348.83" y="464.70" font-size="7.5" text-anchor="end" fill="#f7a23b" stroke="#f7a23b" stroke-width="0.22" transform="rotate(-90 348.83 464.70)">ECNT</text>
<text x="359.56" y="464.70" font-size="7.5" text-anchor="end" fill="#8a8a8a" stroke="#8a8a8a" stroke-width="0.22" transform="rotate(-90 359.56 464.70)">AS_SB_TABLE</text>
<text x="370.29" y="464.70" font-size="7.5" text-anchor="end" fill="#8b5a2b" stroke="#8b5a2b" stroke-width="0.22" transform="rotate(-90 370.29 464.70)">MQ</text>
<text x="381.02" y="464.70" font-size="7.5" text-anchor="end" fill="#1ba9e0" stroke="#1ba9e0" stroke-width="0.22" transform="rotate(-90 381.02 464.70)">MPOS</text>
<text x="391.75" y="464.70" font-size="7.5" text-anchor="end" fill="#1ba9e0" stroke="#1ba9e0" stroke-width="0.22" transform="rotate(-90 391.75 464.70)">CRS</text>
<text x="402.48" y="464.70" font-size="7.5" text-anchor="end" fill="#9475c0" stroke="#9475c0" stroke-width="0.22" transform="rotate(-90 402.48 464.70)">MFRL</text>
<text x="413.21" y="464.70" font-size="7.5" text-anchor="end" fill="#8b5a2b" stroke="#8b5a2b" stroke-width="0.22" transform="rotate(-90 413.21 464.70)">MMQ</text>
<text x="423.94" y="464.70" font-size="7.5" text-anchor="end" fill="#8b5a2b" stroke="#8b5a2b" stroke-width="0.22" transform="rotate(-90 423.94 464.70)">MBQ</text>
<text x="434.67" y="464.70" font-size="7.5" text-anchor="end" fill="#27a86b" stroke="#27a86b" stroke-width="0.22" transform="rotate(-90 434.67 464.70)">GERMQ</text>
<text x="445.40" y="464.70" font-size="7.5" text-anchor="end" fill="#27a86b" stroke="#27a86b" stroke-width="0.22" transform="rotate(-90 445.40 464.70)">POPAF</text>
<circle cx="282.25" cy="326.70" r="2.1" fill="#000"/>
<polygon points="282.25,327.60 284.35,331.40 280.15,331.40" fill="#000"/>
<path d="M280.65,358.70 L283.85,361.90 M283.85,358.70 L280.65,361.90" stroke="#000" stroke-width="1.3"/>
<path d="M291.38,346.40 L294.58,349.60 M294.58,346.40 L291.38,349.60" stroke="#000" stroke-width="1.3"/>
<circle cx="292.98" cy="373.70" r="2.1" fill="#000"/>
<polygon points="292.98,386.30 295.08,390.10 290.88,390.10" fill="#000"/>
<polygon points="303.71,386.10 305.81,389.90 301.61,389.90" fill="#000"/>
<circle cx="303.71" cy="391.00" r="2.1" fill="#000"/>
<path d="M302.11,405.30 L305.31,408.50 M305.31,405.30 L302.11,408.50" stroke="#000" stroke-width="1.3"/>
<circle cx="314.44" cy="394.40" r="2.1" fill="#000"/>
<path d="M312.84,407.40 L316.04,410.60 M316.04,407.40 L312.84,410.60" stroke="#000" stroke-width="1.3"/>
<polygon points="325.17,396.70 327.27,400.50 323.07,400.50" fill="#000"/>
<circle cx="325.17" cy="399.70" r="2.1" fill="#000"/>
<polygon points="335.90,401.60 338.00,405.40 333.80,405.40" fill="#000"/>
<circle cx="335.90" cy="404.40" r="2.1" fill="#000"/>
<path d="M334.30,411.60 L337.50,414.80 M337.50,411.60 L334.30,414.80" stroke="#000" stroke-width="1.3"/>
<polygon points="346.63,401.60 348.73,405.40 344.53,405.40" fill="#000"/>
<circle cx="346.63" cy="408.50" r="2.1" fill="#000"/>
<path d="M345.03,412.90 L348.23,416.10 M348.23,412.90 L345.03,416.10" stroke="#000" stroke-width="1.3"/>
<path d="M355.76,409.50 L358.96,412.70 M358.96,409.50 L355.76,412.70" stroke="#000" stroke-width="1.3"/>
<polygon points="357.36,424.30 359.46,428.10 355.26,428.10" fill="#000"/>
<circle cx="357.36" cy="429.20" r="2.1" fill="#000"/>
<polygon points="368.09,427.10 370.19,430.90 365.99,430.90" fill="#000"/>
<circle cx="368.09" cy="430.90" r="2.1" fill="#000"/>
<path d="M366.49,451.20 L369.69,454.40 M369.69,451.20 L366.49,454.40" stroke="#000" stroke-width="1.3"/>
<path d="M377.22,415.40 L380.42,418.60 M380.42,415.40 L377.22,418.60" stroke="#000" stroke-width="1.3"/>
<circle cx="378.82" cy="433.60" r="2.1" fill="#000"/>
<path d="M387.95,410.60 L391.15,413.80 M391.15,410.60 L387.95,413.80" stroke="#000" stroke-width="1.3"/>
<circle cx="389.55" cy="436.20" r="2.1" fill="#000"/>
<path d="M398.68,425.00 L401.88,428.20 M401.88,425.00 L398.68,428.20" stroke="#000" stroke-width="1.3"/>
<circle cx="400.28" cy="437.70" r="2.1" fill="#000"/>
<path d="M409.41,445.80 L412.61,449.00 M412.61,445.80 L409.41,449.00" stroke="#000" stroke-width="1.3"/>
<circle cx="411.01" cy="452.50" r="2.1" fill="#000"/>
<circle cx="421.74" cy="454.90" r="2.1" fill="#000"/>
<path d="M420.14,454.10 L423.34,457.30 M423.34,454.10 L420.14,457.30" stroke="#000" stroke-width="1.3"/>
<circle cx="432.47" cy="459.60" r="2.1" fill="#000"/>
<circle cx="443.20" cy="461.00" r="2.1" fill="#000"/>
<rect x="328.5" y="322.8" width="65.5" height="20.80000000000001" rx="10.40" fill="#fdc184" stroke="#ef5a28" stroke-width="1.4"/>
<text x="361.25" y="336.90" font-size="10.5" text-anchor="middle" fill="#2e2c2c" stroke="#2e2c2c" stroke-width="0.22">Mutect2</text>
<rect x="491.80" y="327.80" width="15.10" height="134.30" fill="#40974a"/>
<rect x="511.00" y="372.00" width="15.10" height="90.10" fill="#40974a"/>
<rect x="530.20" y="392.20" width="15.10" height="69.90" fill="#40974a"/>
<rect x="549.40" y="394.10" width="15.10" height="68.00" fill="#40974a"/>
<rect x="568.60" y="409.20" width="15.10" height="52.90" fill="#40974a"/>
<rect x="587.80" y="430.90" width="15.10" height="31.20" fill="#40974a"/>
<rect x="607.00" y="447.50" width="15.10" height="14.60" fill="#40974a"/>
<rect x="626.20" y="459.00" width="15.10" height="3.10" fill="#40974a"/>
<rect x="645.40" y="459.00" width="15.10" height="3.10" fill="#40974a"/>
<rect x="490.3" y="319.4" width="172.7" height="142.70000000000005" fill="none" stroke="#000" stroke-width="1.4"/>
<text x="487.00" y="463.00" font-size="10.0" text-anchor="end" stroke="#231f20" stroke-width="0.22" textLength="19.00" lengthAdjust="spacingAndGlyphs">0.00</text>
<text x="487.00" y="441.62" font-size="10.0" text-anchor="end" stroke="#231f20" stroke-width="0.22" textLength="19.00" lengthAdjust="spacingAndGlyphs">0.05</text>
<text x="487.00" y="420.24" font-size="10.0" text-anchor="end" stroke="#231f20" stroke-width="0.22" textLength="19.00" lengthAdjust="spacingAndGlyphs">0.10</text>
<text x="487.00" y="398.86" font-size="10.0" text-anchor="end" stroke="#231f20" stroke-width="0.22" textLength="19.00" lengthAdjust="spacingAndGlyphs">0.15</text>
<text x="487.00" y="377.48" font-size="10.0" text-anchor="end" stroke="#231f20" stroke-width="0.22" textLength="19.00" lengthAdjust="spacingAndGlyphs">0.20</text>
<text x="487.00" y="356.10" font-size="10.0" text-anchor="end" stroke="#231f20" stroke-width="0.22" textLength="19.00" lengthAdjust="spacingAndGlyphs">0.25</text>
<text x="487.00" y="334.72" font-size="10.0" text-anchor="end" stroke="#231f20" stroke-width="0.22" textLength="19.00" lengthAdjust="spacingAndGlyphs">0.30</text>
<text x="463.70" y="391.50" font-size="10.4" text-anchor="middle" stroke="#231f20" stroke-width="0.22" textLength="83.70" lengthAdjust="spacingAndGlyphs" transform="rotate(-90 463.70 391.50)">feature importance</text>
<text x="501.55" y="465.20" font-size="7.5" text-anchor="end" stroke="#231f20" stroke-width="0.12" font-weight="bold" transform="rotate(-90 501.55 465.20)">SomaticEVS</text>
<text x="520.75" y="465.20" font-size="7.5" text-anchor="end" fill="#1ba9e0" stroke="#1ba9e0" stroke-width="0.22" transform="rotate(-90 520.75 465.20)">RPRS</text>
<text x="539.95" y="465.20" font-size="7.5" text-anchor="end" fill="#e8338b" stroke="#e8338b" stroke-width="0.22" transform="rotate(-90 539.95 465.20)">QSS_NT</text>
<text x="559.15" y="465.20" font-size="7.5" text-anchor="end" fill="#e8338b" stroke="#e8338b" stroke-width="0.22" transform="rotate(-90 559.15 465.20)">QSS</text>
<text x="578.35" y="465.20" font-size="7.5" text-anchor="end" fill="#8b5a2b" stroke="#8b5a2b" stroke-width="0.22" transform="rotate(-90 578.35 465.20)">MQ</text>
<text x="597.55" y="465.20" font-size="7.5" text-anchor="end" fill="#8b5a2b" stroke="#8b5a2b" stroke-width="0.22" transform="rotate(-90 597.55 465.20)">MQ0</text>
<text x="616.75" y="465.20" font-size="7.5" text-anchor="end" fill="#8a8a8a" stroke="#8a8a8a" stroke-width="0.22" transform="rotate(-90 616.75 465.20)">SNVSB</text>
<text x="635.95" y="465.20" font-size="7.5" text-anchor="end" fill="#e8338b" stroke="#e8338b" stroke-width="0.22" transform="rotate(-90 635.95 465.20)">TQSS</text>
<text x="655.15" y="465.20" font-size="7.5" text-anchor="end" fill="#e8338b" stroke="#e8338b" stroke-width="0.22" transform="rotate(-90 655.15 465.20)">TQSS_NT</text>
<circle cx="499.35" cy="327.30" r="2.1" fill="#000"/>
<path d="M497.75,361.20 L500.95,364.40 M500.95,361.20 L497.75,364.40" stroke="#000" stroke-width="1.3"/>
<path d="M516.95,367.60 L520.15,370.80 M520.15,367.60 L516.95,370.80" stroke="#000" stroke-width="1.3"/>
<polygon points="518.55,369.70 520.65,373.50 516.45,373.50" fill="#000"/>
<circle cx="518.55" cy="378.10" r="2.1" fill="#000"/>
<circle cx="537.75" cy="386.20" r="2.1" fill="#000"/>
<path d="M536.15,390.60 L539.35,393.80 M539.35,390.60 L536.15,393.80" stroke="#000" stroke-width="1.3"/>
<polygon points="537.75,398.40 539.85,402.20 535.65,402.20" fill="#000"/>
<path d="M555.35,386.30 L558.55,389.50 M558.55,386.30 L555.35,389.50" stroke="#000" stroke-width="1.3"/>
<circle cx="556.95" cy="394.30" r="2.1" fill="#000"/>
<polygon points="556.95,393.50 559.05,397.30 554.85,397.30" fill="#000"/>
<path d="M574.55,401.20 L577.75,404.40 M577.75,401.20 L574.55,404.40" stroke="#000" stroke-width="1.3"/>
<polygon points="576.15,406.90 578.25,410.70 574.05,410.70" fill="#000"/>
<circle cx="576.15" cy="412.80" r="2.1" fill="#000"/>
<path d="M593.75,422.20 L596.95,425.40 M596.95,422.20 L593.75,425.40" stroke="#000" stroke-width="1.3"/>
<polygon points="595.35,428.60 597.45,432.40 593.25,432.40" fill="#000"/>
<circle cx="595.35" cy="433.00" r="2.1" fill="#000"/>
<path d="M614.75,443.00 L617.95,446.20 M617.95,443.00 L614.75,446.20" stroke="#000" stroke-width="1.3"/>
<polygon points="615.15,444.90 617.25,448.70 613.05,448.70" fill="#000"/>
<circle cx="613.75" cy="449.20" r="2.1" fill="#000"/>
<circle cx="632.95" cy="458.60" r="2.1" fill="#000"/>
<polygon points="634.15,456.10 636.25,459.90 632.05,459.90" fill="#000"/>
<path d="M652.85,455.50 L656.05,458.70 M656.05,455.50 L652.85,458.70" stroke="#000" stroke-width="1.3"/>
<circle cx="652.15" cy="458.60" r="2.1" fill="#000"/>
<rect x="546.3" y="322.5" width="61.60000000000002" height="21.100000000000023" rx="10.55" fill="#76b186" stroke="#1f7a45" stroke-width="1.4"/>
<text x="577.10" y="336.75" font-size="10.5" text-anchor="middle" fill="#2e2c2c" stroke="#2e2c2c" stroke-width="0.22" textLength="40.00" lengthAdjust="spacingAndGlyphs">Strelka2</text>
<rect x="61.10" y="533.60" width="27.30" height="128.40" fill="#bf484a"/>
<rect x="95.78" y="556.00" width="27.30" height="106.00" fill="#bf484a"/>
<rect x="130.45" y="652.00" width="27.30" height="10.00" fill="#bf484a"/>
<rect x="165.12" y="656.20" width="27.30" height="5.80" fill="#bf484a"/>
<rect x="199.80" y="658.40" width="27.30" height="3.60" fill="#bf484a"/>
<rect x="57.8" y="519.2" width="173.10000000000002" height="142.79999999999995" fill="none" stroke="#000" stroke-width="1.4"/>
<text x="54.80" y="662.90" font-size="10.0" text-anchor="end" stroke="#231f20" stroke-width="0.22" textLength="12.80" lengthAdjust="spacingAndGlyphs">0.0</text>
<text x="54.80" y="637.04" font-size="10.0" text-anchor="end" stroke="#231f20" stroke-width="0.22" textLength="12.80" lengthAdjust="spacingAndGlyphs">0.1</text>
<text x="54.80" y="611.18" font-size="10.0" text-anchor="end" stroke="#231f20" stroke-width="0.22" textLength="12.80" lengthAdjust="spacingAndGlyphs">0.2</text>
<text x="54.80" y="585.32" font-size="10.0" text-anchor="end" stroke="#231f20" stroke-width="0.22" textLength="12.80" lengthAdjust="spacingAndGlyphs">0.3</text>
<text x="54.80" y="559.46" font-size="10.0" text-anchor="end" stroke="#231f20" stroke-width="0.22" textLength="12.80" lengthAdjust="spacingAndGlyphs">0.4</text>
<text x="54.80" y="533.60" font-size="10.0" text-anchor="end" stroke="#231f20" stroke-width="0.22" textLength="12.80" lengthAdjust="spacingAndGlyphs">0.5</text>
<text x="38.60" y="596.10" font-size="10.4" text-anchor="middle" stroke="#231f20" stroke-width="0.22" textLength="81.60" lengthAdjust="spacingAndGlyphs" transform="rotate(-90 38.60 596.10)">feature importance</text>
<text x="78.60" y="665.40" font-size="7.5" text-anchor="end" stroke="#231f20" stroke-width="0.12" font-weight="bold" transform="rotate(-90 78.60 665.40)">SSF</text>
<text x="112.60" y="665.40" font-size="7.5" text-anchor="end" fill="#8a8a8a" stroke="#8a8a8a" stroke-width="0.22" transform="rotate(-90 112.60 665.40)">SOR</text>
<text x="146.40" y="665.40" font-size="7.5" text-anchor="end" fill="#f08f86" stroke="#f08f86" stroke-width="0.22" transform="rotate(-90 146.40 665.40)">MSI</text>
<text x="180.40" y="665.40" font-size="7.5" text-anchor="end" fill="#f08f86" stroke="#f08f86" stroke-width="0.22" transform="rotate(-90 180.40 665.40)">SHIFT3</text>
<text x="214.10" y="665.40" font-size="7.5" text-anchor="end" fill="#f08f86" stroke="#f08f86" stroke-width="0.22" transform="rotate(-90 214.10 665.40)">MSILEN</text>
<polygon points="74.75,524.00 76.85,527.80 72.65,527.80" fill="#000"/>
<circle cx="77.75" cy="533.30" r="2.1" fill="#000"/>
<path d="M107.33,552.00 L110.53,555.20 M110.53,552.00 L107.33,555.20" stroke="#000" stroke-width="1.3"/>
<circle cx="111.73" cy="555.80" r="2.1" fill="#000"/>
<polygon points="107.03,560.40 109.12,564.20 104.93,564.20" fill="#000"/>
<circle cx="141.60" cy="651.30" r="2.1" fill="#000"/>
<path d="M141.50,650.60 L144.70,653.80 M144.70,650.60 L141.50,653.80" stroke="#000" stroke-width="1.3"/>
<polygon points="144.60,650.70 146.70,654.50 142.50,654.50" fill="#000"/>
<path d="M175.18,655.40 L178.38,658.60 M178.38,655.40 L175.18,658.60" stroke="#000" stroke-width="1.3"/>
<circle cx="180.38" cy="656.20" r="2.1" fill="#000"/>
<polygon points="178.78,654.30 180.88,658.10 176.68,658.10" fill="#000"/>
<path d="M210.35,656.80 L213.55,660.00 M213.55,656.80 L210.35,660.00" stroke="#000" stroke-width="1.3"/>
<circle cx="214.45" cy="658.00" r="2.1" fill="#000"/>
<polygon points="213.45,655.90 215.55,659.70 211.35,659.70" fill="#000"/>
<rect x="111.0" y="521.8" width="65.6" height="20.90000000000009" rx="10.45" fill="#f4a3a0" stroke="#c8202c" stroke-width="1.4"/>
<text x="143.80" y="535.95" font-size="10.5" text-anchor="middle" fill="#2e2c2c" stroke="#2e2c2c" stroke-width="0.22">VarDict</text>
<text x="35.60" y="676.20" font-size="10.0" text-anchor="middle" stroke="#231f20" stroke-width="0.22" textLength="31.30" lengthAdjust="spacingAndGlyphs">feature</text>
<text x="35.60" y="688.20" font-size="10.0" text-anchor="middle" stroke="#231f20" stroke-width="0.22" textLength="42.30" lengthAdjust="spacingAndGlyphs">acronyms</text>
<rect x="280.60" y="528.30" width="34.20" height="135.20" fill="#8974b3"/>
<rect x="323.73" y="653.20" width="34.20" height="10.30" fill="#8974b3"/>
<rect x="366.87" y="654.50" width="34.20" height="9.00" fill="#8974b3"/>
<rect x="410.00" y="656.40" width="34.20" height="7.10" fill="#8974b3"/>
<rect x="276.1" y="520.6" width="173.09999999999997" height="142.89999999999998" fill="none" stroke="#000" stroke-width="1.4"/>
<text x="271.90" y="663.80" font-size="10.0" text-anchor="end" stroke="#231f20" stroke-width="0.22" textLength="12.80" lengthAdjust="spacingAndGlyphs">0.0</text>
<text x="271.90" y="647.82" font-size="10.0" text-anchor="end" stroke="#231f20" stroke-width="0.22" textLength="12.80" lengthAdjust="spacingAndGlyphs">0.1</text>
<text x="271.90" y="631.84" font-size="10.0" text-anchor="end" stroke="#231f20" stroke-width="0.22" textLength="12.80" lengthAdjust="spacingAndGlyphs">0.2</text>
<text x="271.90" y="615.86" font-size="10.0" text-anchor="end" stroke="#231f20" stroke-width="0.22" textLength="12.80" lengthAdjust="spacingAndGlyphs">0.3</text>
<text x="271.90" y="599.88" font-size="10.0" text-anchor="end" stroke="#231f20" stroke-width="0.22" textLength="12.80" lengthAdjust="spacingAndGlyphs">0.4</text>
<text x="271.90" y="583.90" font-size="10.0" text-anchor="end" stroke="#231f20" stroke-width="0.22" textLength="12.80" lengthAdjust="spacingAndGlyphs">0.5</text>
<text x="271.90" y="567.92" font-size="10.0" text-anchor="end" stroke="#231f20" stroke-width="0.22" textLength="12.80" lengthAdjust="spacingAndGlyphs">0.6</text>
<text x="271.90" y="551.94" font-size="10.0" text-anchor="end" stroke="#231f20" stroke-width="0.22" textLength="12.80" lengthAdjust="spacingAndGlyphs">0.7</text>
<text x="271.90" y="535.96" font-size="10.0" text-anchor="end" stroke="#231f20" stroke-width="0.22" textLength="12.80" lengthAdjust="spacingAndGlyphs">0.8</text>
<text x="248.90" y="588.70" font-size="10.4" text-anchor="middle" stroke="#231f20" stroke-width="0.22" textLength="84.90" lengthAdjust="spacingAndGlyphs" transform="rotate(-90 248.90 588.70)">feature importance</text>
<text x="299.90" y="666.10" font-size="7.5" text-anchor="end" stroke="#231f20" stroke-width="0.12" font-weight="bold" transform="rotate(-90 299.90 666.10)">SPV</text>
<text x="343.03" y="666.10" font-size="7.5" text-anchor="end" fill="#27a86b" stroke="#27a86b" stroke-width="0.22" transform="rotate(-90 343.03 666.10)">SS</text>
<text x="386.17" y="666.10" font-size="7.5" text-anchor="end" fill="#e8338b" stroke="#e8338b" stroke-width="0.22" transform="rotate(-90 386.17 666.10)">SSC</text>
<text x="429.30" y="666.10" font-size="7.5" text-anchor="end" fill="#27a86b" stroke="#27a86b" stroke-width="0.22" transform="rotate(-90 429.30 666.10)">GPV</text>
<circle cx="296.50" cy="527.70" r="2.1" fill="#000"/>
<circle cx="297.70" cy="530.90" r="2.1" fill="#000"/>
<path d="M336.23,652.30 L339.43,655.50 M339.43,652.30 L336.23,655.50" stroke="#000" stroke-width="1.3"/>
<polygon points="340.83,650.20 342.93,654.00 338.73,654.00" fill="#000"/>
<circle cx="342.43" cy="650.00" r="2.1" fill="#000"/>
<circle cx="381.07" cy="652.30" r="2.1" fill="#000"/>
<polygon points="382.97,651.20 385.07,655.00 380.87,655.00" fill="#000"/>
<path d="M382.87,652.90 L386.07,656.10 M386.07,652.90 L382.87,656.10" stroke="#000" stroke-width="1.3"/>
<circle cx="427.10" cy="657.70" r="2.1" fill="#000"/>
<path d="M426.50,654.40 L429.70,657.60 M429.70,654.40 L426.50,657.60" stroke="#000" stroke-width="1.3"/>
<polygon points="426.60,654.70 428.70,658.50 424.50,658.50" fill="#000"/>
<rect x="331.3" y="522.8" width="65.19999999999999" height="21.200000000000045" rx="10.60" fill="#9b8ac7" stroke="#2b2a6b" stroke-width="1.4"/>
<text x="365.90" y="537.10" font-size="10.5" text-anchor="middle" fill="#2e2c2c" stroke="#2e2c2c" stroke-width="0.22">VarScan</text>
<rect x="489.70" y="529.50" width="5.40" height="132.60" fill="#a0a546"/>
<rect x="496.11" y="540.10" width="5.40" height="122.00" fill="#a0a546"/>
<rect x="502.52" y="582.60" width="5.40" height="79.50" fill="#a0a546"/>
<rect x="508.92" y="589.40" width="5.40" height="72.70" fill="#a0a546"/>
<rect x="515.33" y="606.40" width="5.40" height="55.70" fill="#a0a546"/>
<rect x="521.74" y="606.40" width="5.40" height="55.70" fill="#a0a546"/>
<rect x="528.15" y="607.50" width="5.40" height="54.60" fill="#a0a546"/>
<rect x="534.55" y="617.00" width="5.40" height="45.10" fill="#a0a546"/>
<rect x="540.96" y="618.10" width="5.40" height="44.00" fill="#a0a546"/>
<rect x="547.37" y="627.60" width="5.40" height="34.50" fill="#a0a546"/>
<rect x="553.78" y="630.80" width="5.40" height="31.30" fill="#a0a546"/>
<rect x="560.18" y="633.00" width="5.40" height="29.10" fill="#a0a546"/>
<rect x="566.59" y="634.00" width="5.40" height="28.10" fill="#a0a546"/>
<rect x="573.00" y="635.40" width="5.40" height="26.70" fill="#a0a546"/>
<rect x="579.41" y="638.30" width="5.40" height="23.80" fill="#a0a546"/>
<rect x="585.82" y="642.10" width="5.40" height="20.00" fill="#a0a546"/>
<rect x="592.22" y="643.60" width="5.40" height="18.50" fill="#a0a546"/>
<rect x="598.63" y="645.70" width="5.40" height="16.40" fill="#a0a546"/>
<rect x="605.04" y="647.80" width="5.40" height="14.30" fill="#a0a546"/>
<rect x="611.45" y="648.90" width="5.40" height="13.20" fill="#a0a546"/>
<rect x="617.85" y="654.20" width="5.40" height="7.90" fill="#a0a546"/>
<rect x="624.26" y="655.30" width="5.40" height="6.80" fill="#a0a546"/>
<rect x="630.67" y="655.90" width="5.40" height="6.20" fill="#a0a546"/>
<rect x="637.08" y="656.80" width="5.40" height="5.30" fill="#a0a546"/>
<rect x="643.48" y="657.40" width="5.40" height="4.70" fill="#a0a546"/>
<rect x="649.89" y="657.40" width="5.40" height="4.70" fill="#a0a546"/>
<rect x="656.30" y="658.50" width="5.40" height="3.60" fill="#a0a546"/>
<rect x="489.3" y="519.3" width="172.99999999999994" height="142.80000000000007" fill="none" stroke="#000" stroke-width="1.4"/>
<text x="486.90" y="667.20" font-size="10.0" text-anchor="end" stroke="#231f20" stroke-width="0.22" textLength="18.60" lengthAdjust="spacingAndGlyphs">0.00</text>
<text x="486.90" y="647.50" font-size="10.0" text-anchor="end" stroke="#231f20" stroke-width="0.22" textLength="18.60" lengthAdjust="spacingAndGlyphs">0.02</text>
<text x="486.90" y="627.80" font-size="10.0" text-anchor="end" stroke="#231f20" stroke-width="0.22" textLength="18.60" lengthAdjust="spacingAndGlyphs">0.04</text>
<text x="486.90" y="608.10" font-size="10.0" text-anchor="end" stroke="#231f20" stroke-width="0.22" textLength="18.60" lengthAdjust="spacingAndGlyphs">0.06</text>
<text x="486.90" y="588.40" font-size="10.0" text-anchor="end" stroke="#231f20" stroke-width="0.22" textLength="18.60" lengthAdjust="spacingAndGlyphs">0.08</text>
<text x="486.90" y="568.70" font-size="10.0" text-anchor="end" stroke="#231f20" stroke-width="0.22" textLength="18.60" lengthAdjust="spacingAndGlyphs">0.10</text>
<text x="486.90" y="549.00" font-size="10.0" text-anchor="end" stroke="#231f20" stroke-width="0.22" textLength="18.60" lengthAdjust="spacingAndGlyphs">0.12</text>
<text x="486.90" y="529.30" font-size="10.0" text-anchor="end" stroke="#231f20" stroke-width="0.22" textLength="18.60" lengthAdjust="spacingAndGlyphs">0.14</text>
<text x="463.70" y="585.70" font-size="10.4" text-anchor="middle" stroke="#231f20" stroke-width="0.22" textLength="85.00" lengthAdjust="spacingAndGlyphs" transform="rotate(-90 463.70 585.70)">feature importance</text>
<text x="496.20" y="663.00" font-size="7.7" text-anchor="end" fill="#e8338b" stroke="#e8338b" stroke-width="0.22" transform="rotate(-90 496.20 663.00)">s2_QSS</text>
<text x="502.61" y="663.00" font-size="7.7" text-anchor="end" stroke="#231f20" stroke-width="0.22" transform="rotate(-90 502.61 663.00)">m2_TLOD</text>
<text x="509.02" y="663.00" font-size="7.7" text-anchor="end" stroke="#231f20" stroke-width="0.22" transform="rotate(-90 509.02 663.00)">s2_SomaticEVS</text>
<text x="515.42" y="663.00" font-size="7.7" text-anchor="end" stroke="#231f20" stroke-width="0.22" transform="rotate(-90 515.42 663.00)">vd_SSF</text>
<text x="521.83" y="663.00" font-size="7.7" text-anchor="end" stroke="#231f20" stroke-width="0.12" font-weight="bold" transform="rotate(-90 521.83 663.00)">FALSE</text>
<text x="528.24" y="663.00" font-size="7.7" text-anchor="end" fill="#8b5a2b" stroke="#8b5a2b" stroke-width="0.22" transform="rotate(-90 528.24 663.00)">m2_MQ</text>
<text x="534.65" y="663.00" font-size="7.7" text-anchor="end" fill="#27a86b" stroke="#27a86b" stroke-width="0.22" transform="rotate(-90 534.65 663.00)">m2_NLOD</text>
<text x="541.05" y="663.00" font-size="7.7" text-anchor="end" fill="#1ba9e0" stroke="#1ba9e0" stroke-width="0.22" transform="rotate(-90 541.05 663.00)">s2_RPRS</text>
<text x="547.46" y="663.00" font-size="7.7" text-anchor="end" fill="#e8338b" stroke="#e8338b" stroke-width="0.22" transform="rotate(-90 547.46 663.00)">vs_SSC</text>
<text x="553.87" y="663.00" font-size="7.7" text-anchor="end" fill="#1ba9e0" stroke="#1ba9e0" stroke-width="0.22" transform="rotate(-90 553.87 663.00)">m2_RPRS</text>
<text x="560.28" y="663.00" font-size="7.7" text-anchor="end" stroke="#231f20" stroke-width="0.22" transform="rotate(-90 560.28 663.00)">vs_SPV</text>
<text x="566.68" y="663.00" font-size="7.7" text-anchor="end" fill="#8b5a2b" stroke="#8b5a2b" stroke-width="0.22" transform="rotate(-90 566.68 663.00)">f_MQMR</text>
<text x="573.09" y="663.00" font-size="7.7" text-anchor="end" stroke="#231f20" stroke-width="0.22" transform="rotate(-90 573.09 663.00)">FILTER_Mutect2</text>
<text x="579.50" y="663.00" font-size="7.7" text-anchor="end" fill="#8b5a2b" stroke="#8b5a2b" stroke-width="0.22" transform="rotate(-90 579.50 663.00)">s2_MQ</text>
<text x="585.91" y="663.00" font-size="7.7" text-anchor="end" stroke="#231f20" stroke-width="0.22" transform="rotate(-90 585.91 663.00)">FILTER_Strelka2</text>
<text x="592.32" y="663.00" font-size="7.7" text-anchor="end" fill="#f08f86" stroke="#f08f86" stroke-width="0.22" transform="rotate(-90 592.32 663.00)">vd_MSI</text>
<text x="598.72" y="663.00" font-size="7.7" text-anchor="end" stroke="#231f20" stroke-width="0.22" transform="rotate(-90 598.72 663.00)">f_ODDS</text>
<text x="605.13" y="663.00" font-size="7.7" text-anchor="end" fill="#8b5a2b" stroke="#8b5a2b" stroke-width="0.22" transform="rotate(-90 605.13 663.00)">f_MQM</text>
<text x="611.54" y="663.00" font-size="7.7" text-anchor="end" fill="#8a8a8a" stroke="#8a8a8a" stroke-width="0.22" transform="rotate(-90 611.54 663.00)">vd_SOR</text>
<text x="617.95" y="663.00" font-size="7.7" text-anchor="end" fill="#8b5a2b" stroke="#8b5a2b" stroke-width="0.22" transform="rotate(-90 617.95 663.00)">m2_MQRankSum</text>
<text x="624.35" y="663.00" font-size="7.7" text-anchor="end" fill="#8a8a8a" stroke="#8a8a8a" stroke-width="0.22" transform="rotate(-90 624.35 663.00)">m2_FS</text>
<text x="630.76" y="663.00" font-size="7.7" text-anchor="end" stroke="#231f20" stroke-width="0.22" transform="rotate(-90 630.76 663.00)">FILTER_Freebayes</text>
<text x="637.17" y="663.00" font-size="7.7" text-anchor="end" fill="#27a86b" stroke="#27a86b" stroke-width="0.22" transform="rotate(-90 637.17 663.00)">vs_GPV</text>
<text x="643.58" y="663.00" font-size="7.7" text-anchor="end" stroke="#231f20" stroke-width="0.22" transform="rotate(-90 643.58 663.00)">FILTER_Vardict</text>
<text x="649.98" y="663.00" font-size="7.7" text-anchor="end" fill="#27a86b" stroke="#27a86b" stroke-width="0.22" transform="rotate(-90 649.98 663.00)">vs_SS</text>
<text x="656.39" y="663.00" font-size="7.7" text-anchor="end" fill="#f08f86" stroke="#f08f86" stroke-width="0.22" transform="rotate(-90 656.39 663.00)">f_LEN</text>
<text x="662.80" y="663.00" font-size="7.7" text-anchor="end" stroke="#231f20" stroke-width="0.22" transform="rotate(-90 662.80 663.00)">FILTER_Varscan</text>
<polygon points="492.40,523.30 494.50,527.10 490.30,527.10" fill="#000"/>
<circle cx="492.40" cy="530.30" r="2.1" fill="#000"/>
<path d="M490.80,542.10 L494.00,545.30 M494.00,542.10 L490.80,545.30" stroke="#000" stroke-width="1.3"/>
<circle cx="498.81" cy="534.60" r="2.1" fill="#000"/>
<polygon points="498.81,538.20 500.91,542.00 496.71,542.00" fill="#000"/>
<path d="M497.21,547.80 L500.41,551.00 M500.41,547.80 L497.21,551.00" stroke="#000" stroke-width="1.3"/>
<polygon points="505.22,549.90 507.32,553.70 503.12,553.70" fill="#000"/>
<circle cx="505.22" cy="583.40" r="2.1" fill="#000"/>
<path d="M503.62,581.80 L506.82,585.00 M506.82,581.80 L503.62,585.00" stroke="#000" stroke-width="1.3"/>
<path d="M510.02,582.50 L513.22,585.70 M513.22,582.50 L510.02,585.70" stroke="#000" stroke-width="1.3"/>
<polygon points="511.62,587.50 513.72,591.30 509.52,591.30" fill="#000"/>
<circle cx="511.62" cy="599.60" r="2.1" fill="#000"/>
<path d="M516.43,603.70 L519.63,606.90 M519.63,603.70 L516.43,606.90" stroke="#000" stroke-width="1.3"/>
<polygon points="518.03,604.70 520.13,608.50 515.93,608.50" fill="#000"/>
<circle cx="518.03" cy="609.60" r="2.1" fill="#000"/>
<circle cx="524.44" cy="606.80" r="2.1" fill="#000"/>
<circle cx="530.85" cy="597.90" r="2.1" fill="#000"/>
<polygon points="530.85,605.20 532.95,609.00 528.75,609.00" fill="#000"/>
<path d="M529.25,611.20 L532.45,614.40 M532.45,611.20 L529.25,614.40" stroke="#000" stroke-width="1.3"/>
<path d="M535.65,609.70 L538.85,612.90 M538.85,609.70 L535.65,612.90" stroke="#000" stroke-width="1.3"/>
<circle cx="537.25" cy="617.00" r="2.1" fill="#000"/>
<circle cx="543.66" cy="612.80" r="2.1" fill="#000"/>
<path d="M542.06,617.10 L545.26,620.30 M545.26,617.10 L542.06,620.30" stroke="#000" stroke-width="1.3"/>
<path d="M548.47,618.20 L551.67,621.40 M551.67,618.20 L548.47,621.40" stroke="#000" stroke-width="1.3"/>
<circle cx="550.07" cy="627.60" r="2.1" fill="#000"/>
<polygon points="550.07,635.50 552.17,639.30 547.97,639.30" fill="#000"/>
<path d="M554.88,618.20 L558.08,621.40 M558.08,618.20 L554.88,621.40" stroke="#000" stroke-width="1.3"/>
<circle cx="556.48" cy="631.50" r="2.1" fill="#000"/>
<circle cx="562.88" cy="628.30" r="2.1" fill="#000"/>
<path d="M561.28,632.00 L564.48,635.20 M564.48,632.00 L561.28,635.20" stroke="#000" stroke-width="1.3"/>
<polygon points="562.88,637.00 564.98,640.80 560.78,640.80" fill="#000"/>
<circle cx="569.29" cy="630.40" r="2.1" fill="#000"/>
<polygon points="569.29,632.10 571.39,635.90 567.19,635.90" fill="#000"/>
<path d="M567.69,636.70 L570.89,639.90 M570.89,636.70 L567.69,639.90" stroke="#000" stroke-width="1.3"/>
<circle cx="575.70" cy="630.80" r="2.1" fill="#000"/>
<path d="M574.10,632.00 L577.30,635.20 M577.30,632.00 L574.10,635.20" stroke="#000" stroke-width="1.3"/>
<circle cx="575.70" cy="636.80" r="2.1" fill="#000"/>
<polygon points="582.11,633.40 584.21,637.20 580.01,637.20" fill="#000"/>
<circle cx="582.11" cy="639.30" r="2.1" fill="#000"/>
<path d="M580.51,644.10 L583.71,647.30 M583.71,644.10 L580.51,647.30" stroke="#000" stroke-width="1.3"/>
<path d="M586.92,636.70 L590.12,639.90 M590.12,636.70 L586.92,639.90" stroke="#000" stroke-width="1.3"/>
<polygon points="588.52,638.20 590.62,642.00 586.42,642.00" fill="#000"/>
<circle cx="588.52" cy="642.50" r="2.1" fill="#000"/>
<path d="M593.32,635.00 L596.52,638.20 M596.52,635.00 L593.32,638.20" stroke="#000" stroke-width="1.3"/>
<circle cx="594.92" cy="644.00" r="2.1" fill="#000"/>
<path d="M599.73,640.90 L602.93,644.10 M602.93,640.90 L599.73,644.10" stroke="#000" stroke-width="1.3"/>
<polygon points="601.33,641.50 603.43,645.30 599.23,645.30" fill="#000"/>
<circle cx="601.33" cy="645.70" r="2.1" fill="#000"/>
<path d="M606.14,642.60 L609.34,645.80 M609.34,642.60 L606.14,645.80" stroke="#000" stroke-width="1.3"/>
<circle cx="607.74" cy="646.30" r="2.1" fill="#000"/>
<polygon points="607.74,649.80 609.84,653.60 605.64,653.60" fill="#000"/>
<path d="M612.55,645.20 L615.75,648.40 M615.75,645.20 L612.55,648.40" stroke="#000" stroke-width="1.3"/>
<circle cx="614.15" cy="649.30" r="2.1" fill="#000"/>
<circle cx="620.55" cy="652.70" r="2.1" fill="#000"/>
<circle cx="626.96" cy="652.70" r="2.1" fill="#000"/>
<path d="M625.36,653.30 L628.56,656.50 M628.56,653.30 L625.36,656.50" stroke="#000" stroke-width="1.3"/>
<path d="M631.77,652.60 L634.97,655.80 M634.97,652.60 L631.77,655.80" stroke="#000" stroke-width="1.3"/>
<circle cx="633.37" cy="654.90" r="2.1" fill="#000"/>
<path d="M638.18,653.70 L641.38,656.90 M641.38,653.70 L638.18,656.90" stroke="#000" stroke-width="1.3"/>
<circle cx="639.78" cy="656.30" r="2.1" fill="#000"/>
<path d="M644.58,652.60 L647.78,655.80 M647.78,652.60 L644.58,655.80" stroke="#000" stroke-width="1.3"/>
<circle cx="646.18" cy="655.70" r="2.1" fill="#000"/>
<circle cx="652.59" cy="652.70" r="2.1" fill="#000"/>
<path d="M650.99,655.80 L654.19,659.00 M654.19,655.80 L650.99,659.00" stroke="#000" stroke-width="1.3"/>
<path d="M657.40,654.10 L660.60,657.30 M660.60,654.10 L657.40,657.30" stroke="#000" stroke-width="1.3"/>
<circle cx="659.00" cy="658.50" r="2.1" fill="#000"/>
<rect x="541.6" y="522.5" width="65.19999999999993" height="21.100000000000023" rx="10.55" fill="#c2dd9a" stroke="#6a9a6a" stroke-width="1.2"/>
<text x="574.20" y="536.75" font-size="10.5" text-anchor="middle" fill="#2e2c2c" stroke="#2e2c2c" stroke-width="0.22">SMuRF</text>
<rect x="3.5" y="694.6" width="485.8" height="33.6" fill="#fff" stroke="#bdbdbd" stroke-width="0.9"/>
<text x="31.50" y="708.40" font-size="9.0" text-anchor="middle" stroke="#231f20" stroke-width="0.12" font-weight="bold" textLength="32.30" lengthAdjust="spacingAndGlyphs">Feature</text>
<text x="31.50" y="718.90" font-size="9.0" text-anchor="middle" stroke="#231f20" stroke-width="0.12" font-weight="bold" textLength="37.70" lengthAdjust="spacingAndGlyphs">category</text>
<rect x="69.2" y="696.6" width="22.8" height="6.8" fill="#7b4a22"/>
<text x="95.80" y="703.10" font-size="8.6" stroke="#231f20" stroke-width="0.22" textLength="98.80" lengthAdjust="spacingAndGlyphs">Mapping and base quality</text>
<rect x="69.2" y="707.2" width="22.8" height="6.8" fill="#fbb040"/>
<text x="95.80" y="713.60" font-size="8.6" stroke="#231f20" stroke-width="0.22" textLength="54.00" lengthAdjust="spacingAndGlyphs">Allele balance</text>
<rect x="69.2" y="717.4" width="22.8" height="7.0" fill="#6d6e71"/>
<text x="95.80" y="723.80" font-size="8.6" stroke="#231f20" stroke-width="0.22" textLength="43.60" lengthAdjust="spacingAndGlyphs">Strand bias</text>
<rect x="202.3" y="696.6" width="22.8" height="6.8" fill="#231f20"/>
<text x="228.70" y="703.10" font-size="8.6" stroke="#231f20" stroke-width="0.22" textLength="152.40" lengthAdjust="spacingAndGlyphs">Caller score (bold) and caller binary filter</text>
<rect x="202.3" y="707.2" width="22.8" height="6.8" fill="#00aeef"/>
<text x="228.70" y="713.60" font-size="8.6" stroke="#231f20" stroke-width="0.22" textLength="53.00" lengthAdjust="spacingAndGlyphs">Read position</text>
<rect x="202.3" y="717.4" width="22.8" height="7.0" fill="#8061b0"/>
<text x="228.70" y="723.80" font-size="8.6" stroke="#231f20" stroke-width="0.22" textLength="41.00" lengthAdjust="spacingAndGlyphs">Paired-end</text>
<rect x="387.5" y="696.6" width="22.8" height="6.8" fill="#23a870"/>
<text x="414.00" y="703.10" font-size="8.6" stroke="#231f20" stroke-width="0.22" textLength="72.20" lengthAdjust="spacingAndGlyphs">Germline evidence</text>
<rect x="387.5" y="707.2" width="22.8" height="6.8" fill="#f59d96"/>
<text x="414.00" y="713.60" font-size="8.6" stroke="#231f20" stroke-width="0.22" textLength="62.50" lengthAdjust="spacingAndGlyphs">Indel properties</text>
<rect x="387.5" y="717.4" width="22.8" height="7.0" fill="#e5237c"/>
<text x="414.00" y="723.80" font-size="8.6" stroke="#231f20" stroke-width="0.22" textLength="53.80" lengthAdjust="spacingAndGlyphs">Quality scores</text>
</svg>
</body></html>
